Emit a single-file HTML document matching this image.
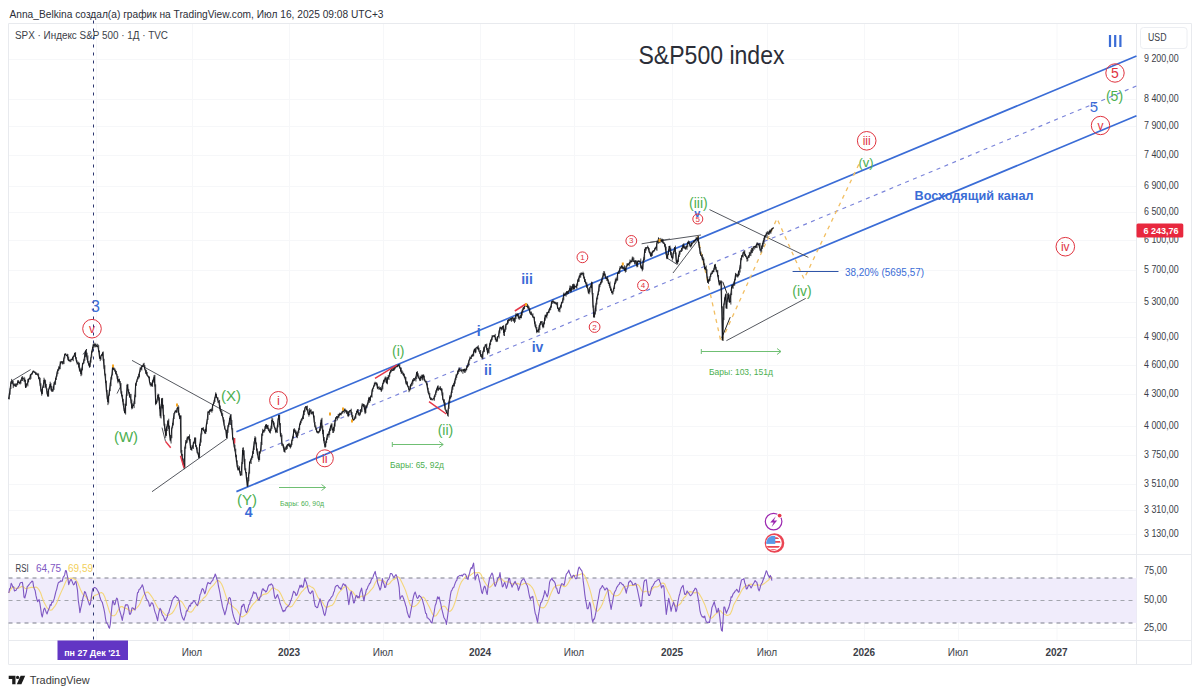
<!DOCTYPE html>
<html><head><meta charset="utf-8"><title>S&amp;P500 index</title>
<style>
html,body{margin:0;padding:0;background:#fff;}
body{width:1200px;height:695px;overflow:hidden;font-family:"Liberation Sans", sans-serif;}
svg{display:block;}
text{font-family:"Liberation Sans", sans-serif;}
</style></head><body>
<svg width="1200" height="695" viewBox="0 0 1200 695">
<rect width="1200" height="695" fill="#ffffff"/>

<text x="9.5" y="17.5" font-size="11" fill="#2b2e38" textLength="374" lengthAdjust="spacingAndGlyphs">Anna_Belkina создал(а) график на TradingView.com, Июл 16, 2025 09:08 UTC+3</text>
<path d="M8.5 59.5H1136.5M8.5 99.5H1136.5M8.5 126.5H1136.5M8.5 155.5H1136.5M8.5 186.5H1136.5M8.5 212.5H1136.5M8.5 240.5H1136.5M8.5 270.5H1136.5M8.5 302.5H1136.5M8.5 337.5H1136.5M8.5 365.5H1136.5M8.5 394.5H1136.5M8.5 426.5H1136.5M8.5 455.5H1136.5M8.5 484.5H1136.5M8.5 510.5H1136.5M8.5 534.5H1136.5M96.5 23.5V640.5M192.5 23.5V640.5M289.5 23.5V640.5M383.5 23.5V640.5M480.5 23.5V640.5M574.5 23.5V640.5M672.5 23.5V640.5M767.5 23.5V640.5M864.5 23.5V640.5M958.5 23.5V640.5M1057.0 23.5V640.5M8.5 628.5H1136.5" stroke="#f6f7f9" stroke-width="1" fill="none"/>
<path d="M8.5 23.5H1191.5V664.5H8.5Z M1136.5 23.5V664.5 M8.5 554.5H1191.5 M8.5 640.5H1191.5" stroke="#e8eaee" stroke-width="1" fill="none"/>
<text x="15" y="39.3" font-size="10" fill="#3b3e48" textLength="153" lengthAdjust="spacingAndGlyphs">SPX · Индекс S&amp;P 500 · 1Д · TVC</text>
<rect x="8.5" y="578" width="1128.0" height="45" fill="#f0ecfb"/>
<path d="M8.5 578H1136.5M8.5 623H1136.5" stroke="#7b7d8a" stroke-width="1" stroke-dasharray="4 4" fill="none"/>
<path d="M8.5 600.5H1136.5" stroke="#a3a5ad" stroke-width="1" stroke-dasharray="4 4" fill="none"/>
<path d="M8.8 593.0 L10.4 590.0 L12.0 587.6 L13.6 587.4 L15.2 588.1 L16.8 588.4 L18.4 588.2 L20.0 587.4 L21.6 586.5 L23.2 586.7 L24.8 588.2 L26.4 588.6 L28.0 588.1 L29.6 587.7 L31.2 587.4 L32.8 587.2 L34.4 587.6 L36.0 587.0 L37.6 588.0 L39.1 589.9 L40.7 593.0 L42.3 597.8 L43.9 602.0 L45.5 605.1 L47.1 607.9 L48.7 609.4 L50.3 610.2 L51.9 609.9 L53.5 607.8 L55.1 605.8 L56.7 603.1 L58.3 599.0 L59.9 595.0 L61.5 591.4 L63.1 587.9 L64.7 584.2 L66.3 580.5 L67.9 578.5 L69.5 578.4 L71.1 578.0 L72.7 578.2 L74.3 578.9 L75.9 579.8 L77.5 582.3 L79.1 586.1 L80.7 590.0 L82.3 593.3 L83.9 595.3 L85.5 596.4 L87.1 598.4 L88.7 600.4 L90.3 600.5 L91.9 598.5 L93.5 596.4 L95.1 595.2 L96.7 594.7 L98.3 594.0 L99.9 593.1 L101.5 592.5 L103.1 593.6 L104.7 596.8 L106.3 601.5 L107.9 606.6 L109.5 611.8 L111.1 615.3 L112.7 615.8 L114.3 615.7 L115.9 614.4 L117.5 611.3 L119.1 608.7 L120.7 606.6 L122.3 606.5 L123.9 608.0 L125.5 608.4 L127.1 608.8 L128.7 610.0 L130.3 611.2 L131.9 610.8 L133.5 609.3 L135.1 608.6 L136.7 608.0 L138.3 606.2 L139.9 603.7 L141.5 599.8 L143.1 596.3 L144.7 594.0 L146.3 592.2 L147.9 592.0 L149.5 593.7 L151.2 595.9 L152.8 598.2 L154.4 601.3 L156.0 604.4 L157.6 607.5 L159.2 609.4 L160.8 610.0 L162.4 611.4 L164.0 613.3 L165.6 615.1 L167.2 615.7 L168.8 614.9 L170.4 614.2 L172.0 613.3 L173.6 611.2 L175.2 608.3 L176.8 604.9 L178.4 602.1 L180.0 600.8 L181.6 601.6 L183.2 603.8 L184.8 606.7 L186.4 609.0 L188.0 610.9 L189.6 612.0 L191.2 612.1 L192.8 610.6 L194.4 608.0 L196.0 605.8 L197.6 604.7 L199.2 603.4 L200.8 601.6 L202.4 599.5 L204.0 597.7 L205.6 596.5 L207.2 594.1 L208.8 590.9 L210.4 588.4 L212.0 586.6 L213.6 585.1 L215.2 583.0 L216.8 580.8 L218.4 580.4 L220.0 581.7 L221.6 584.0 L223.2 587.8 L224.8 592.7 L226.4 597.7 L228.0 601.5 L229.6 603.6 L231.2 604.9 L232.8 606.5 L234.4 607.9 L236.0 609.2 L237.6 611.0 L239.2 613.8 L240.8 616.2 L242.4 617.0 L244.0 616.0 L245.6 614.9 L247.2 613.5 L248.8 611.0 L250.4 608.0 L252.0 605.6 L253.6 603.7 L255.2 602.1 L256.8 599.9 L258.4 598.0 L260.0 596.9 L261.6 595.7 L263.2 594.5 L264.8 594.1 L266.4 593.9 L268.0 593.0 L269.6 591.1 L271.2 589.0 L272.8 587.7 L274.4 588.3 L276.0 589.4 L277.6 589.9 L279.2 591.4 L280.8 594.1 L282.4 597.6 L284.0 601.3 L285.6 603.8 L287.2 605.0 L288.8 606.5 L290.4 607.1 L292.0 606.3 L293.6 604.0 L295.2 601.3 L296.8 599.2 L298.4 597.0 L300.0 594.2 L301.6 591.9 L303.2 590.3 L304.8 588.5 L306.4 587.0 L308.0 585.8 L309.6 585.9 L311.2 586.9 L312.8 587.6 L314.4 589.4 L316.0 593.1 L317.6 596.8 L319.2 599.1 L320.8 600.2 L322.4 602.0 L324.0 605.1 L325.6 607.2 L327.2 607.3 L328.8 606.4 L330.4 605.8 L332.0 605.4 L333.6 603.7 L335.2 600.4 L336.8 596.3 L338.4 593.3 L340.0 591.3 L341.6 589.8 L343.2 588.0 L344.8 586.7 L346.4 586.3 L348.0 587.7 L349.6 590.1 L351.2 590.8 L352.8 591.9 L354.4 594.4 L356.0 596.2 L357.6 597.7 L359.2 597.9 L360.8 596.4 L362.4 596.0 L364.0 596.5 L365.6 595.3 L367.2 594.1 L368.8 592.6 L370.4 590.6 L372.0 588.8 L373.6 586.8 L375.2 583.0 L376.8 580.4 L378.4 579.7 L380.0 580.1 L381.6 580.5 L383.2 580.7 L384.8 582.0 L386.4 583.9 L388.0 584.4 L389.6 583.6 L391.2 581.4 L392.8 579.8 L394.4 579.4 L396.0 577.8 L397.6 576.7 L399.2 577.4 L400.8 580.3 L402.4 583.5 L404.0 586.9 L405.6 590.6 L407.2 595.6 L408.8 601.0 L410.4 605.3 L412.0 606.5 L413.6 606.8 L415.2 606.0 L416.8 604.9 L418.4 603.2 L420.0 600.4 L421.6 597.8 L423.2 597.0 L424.8 598.4 L426.4 601.3 L428.0 604.5 L429.6 607.5 L431.2 611.2 L432.8 614.5 L434.4 616.2 L436.0 615.8 L437.6 613.7 L439.2 610.8 L440.8 608.4 L442.4 606.7 L444.0 606.0 L445.6 607.0 L447.2 609.5 L448.8 611.1 L450.4 611.2 L452.0 609.5 L453.6 606.3 L455.2 601.8 L456.8 596.2 L458.4 589.8 L460.0 584.9 L461.6 581.6 L463.2 579.5 L464.8 577.5 L466.4 576.2 L468.0 576.0 L469.6 575.7 L471.2 574.6 L472.8 573.4 L474.4 572.3 L476.0 572.9 L477.6 572.7 L479.2 572.6 L480.8 574.1 L482.4 577.6 L484.0 580.7 L485.6 583.5 L487.2 585.7 L488.8 587.2 L490.4 587.0 L492.0 585.4 L493.6 583.2 L495.2 582.7 L496.8 582.1 L498.4 579.9 L500.0 578.5 L501.6 578.9 L503.2 580.7 L504.8 581.6 L506.4 581.8 L508.0 582.0 L509.6 582.0 L511.2 583.3 L512.8 584.2 L514.4 583.7 L516.0 583.6 L517.6 583.4 L519.2 584.1 L520.8 585.0 L522.4 584.5 L524.0 583.4 L525.6 583.2 L527.2 583.5 L528.8 584.2 L530.4 585.5 L532.0 587.3 L533.6 590.0 L535.2 594.6 L536.8 599.7 L538.4 604.6 L540.0 607.1 L541.6 607.7 L543.2 607.9 L544.8 607.0 L546.4 604.6 L548.0 601.5 L549.6 596.8 L551.2 592.7 L552.8 589.4 L554.4 586.9 L556.0 585.9 L557.6 585.3 L559.2 585.0 L560.8 585.2 L562.4 585.8 L564.0 586.6 L565.6 586.4 L567.2 584.7 L568.8 581.9 L570.4 579.1 L572.0 577.7 L573.6 576.5 L575.2 575.4 L576.8 575.3 L578.4 574.9 L580.0 574.4 L581.6 573.8 L583.2 573.8 L584.8 575.9 L586.4 579.5 L588.0 583.8 L589.6 588.6 L591.2 594.3 L592.8 601.5 L594.4 607.5 L596.0 610.8 L597.6 611.2 L599.2 609.4 L600.8 607.1 L602.4 604.1 L603.9 599.4 L605.5 595.2 L607.1 591.6 L608.7 589.9 L610.3 590.8 L611.9 593.5 L613.5 595.2 L615.1 595.9 L616.7 595.7 L618.3 595.3 L619.9 594.0 L621.5 591.2 L623.1 588.0 L624.7 586.3 L626.3 586.2 L627.9 586.1 L629.5 585.6 L631.1 585.3 L632.7 585.4 L634.3 585.4 L635.9 584.9 L637.5 584.5 L639.1 585.6 L640.7 588.8 L642.3 591.6 L643.9 592.0 L645.5 591.3 L647.1 591.2 L648.7 592.0 L650.3 591.8 L651.9 589.6 L653.5 587.4 L655.1 586.8 L656.7 587.0 L658.3 586.5 L659.9 584.6 L661.5 583.3 L663.1 583.0 L664.7 584.0 L666.3 587.9 L667.9 591.5 L669.5 594.4 L671.1 598.4 L672.7 601.3 L674.3 603.8 L675.9 606.3 L677.5 605.9 L679.1 604.7 L680.7 603.5 L682.3 600.4 L683.9 597.8 L685.5 596.5 L687.1 594.0 L688.7 592.0 L690.3 591.6 L691.9 592.0 L693.5 592.7 L695.1 592.9 L696.7 592.1 L698.3 592.8 L699.9 594.9 L701.5 597.7 L703.1 600.9 L704.7 604.4 L706.3 608.9 L707.9 613.6 L709.5 617.2 L711.1 618.4 L712.7 617.3 L714.3 615.3 L715.9 613.9 L717.5 612.7 L719.1 610.9 L720.7 610.8 L722.3 613.0 L723.9 613.9 L725.5 614.8 L727.1 615.5 L728.7 615.0 L730.3 614.1 L731.9 610.6 L733.5 605.3 L735.1 602.3 L736.7 599.6 L738.3 596.6 L739.9 593.9 L741.5 590.8 L743.1 588.3 L744.7 586.4 L746.3 585.6 L747.9 585.3 L749.5 584.4 L751.1 584.1 L752.7 584.7 L754.3 585.2 L755.9 585.2 L757.5 584.8 L759.1 585.1 L760.7 585.3 L762.3 584.7 L763.9 583.8 L765.5 582.6 L767.1 581.2 L768.7 580.0 L770.3 578.1 L771.9 577.0" stroke="#f4d67a" stroke-width="1.1" fill="none" stroke-linejoin="round"/>
<path d="M8.8 593.0 L9.6 588.7 L10.4 588.1 L11.2 583.4 L12.0 584.7 L12.8 587.1 L13.6 586.7 L14.4 590.9 L15.2 590.5 L16.0 590.4 L16.8 588.6 L17.6 588.1 L18.4 586.9 L19.2 585.7 L20.0 583.4 L20.8 582.6 L21.6 582.5 L22.4 582.4 L23.2 587.8 L24.0 597.1 L24.8 598.0 L25.6 594.8 L26.4 591.8 L27.2 586.7 L28.0 586.0 L28.8 584.9 L29.6 584.0 L30.4 582.8 L31.2 582.1 L32.0 581.1 L32.8 581.4 L33.6 586.6 L34.4 588.9 L35.2 590.8 L36.0 595.7 L36.8 599.0 L37.6 601.7 L38.4 600.4 L39.1 599.7 L39.9 603.3 L40.7 608.7 L41.5 614.5 L42.3 617.0 L43.1 612.9 L43.9 609.0 L44.7 608.1 L45.5 610.4 L46.3 612.5 L47.1 613.9 L47.9 611.2 L48.7 609.3 L49.5 607.5 L50.3 604.5 L51.1 605.4 L51.9 601.9 L52.7 602.4 L53.5 600.7 L54.3 598.4 L55.1 595.0 L55.9 591.7 L56.7 589.3 L57.5 585.7 L58.3 582.9 L59.1 582.1 L59.9 581.9 L60.7 580.7 L61.5 581.2 L62.3 581.2 L63.1 577.3 L63.9 576.4 L64.7 574.7 L65.5 570.6 L66.3 570.7 L67.1 574.8 L67.9 578.4 L68.7 584.6 L69.5 582.3 L70.3 580.2 L71.1 579.3 L71.9 580.9 L72.7 583.0 L73.5 584.9 L74.3 584.4 L75.1 582.1 L75.9 581.4 L76.7 585.6 L77.5 590.4 L78.3 600.6 L79.1 605.8 L79.9 612.6 L80.7 608.4 L81.5 605.4 L82.3 600.8 L83.1 597.3 L83.9 594.6 L84.7 591.5 L85.5 592.4 L86.3 595.2 L87.1 597.3 L87.9 600.6 L88.7 602.4 L89.5 605.0 L90.3 604.1 L91.1 599.1 L91.9 593.0 L92.7 588.8 L93.5 588.3 L94.3 587.6 L95.1 587.6 L95.9 588.1 L96.7 588.9 L97.5 590.5 L98.3 591.8 L99.1 593.7 L99.9 597.0 L100.7 599.5 L101.5 601.2 L102.3 602.4 L103.1 605.6 L103.9 608.9 L104.7 612.9 L105.5 618.5 L106.3 622.5 L107.1 623.4 L107.9 624.5 L108.7 627.2 L109.5 628.2 L110.3 624.1 L111.1 614.8 L111.9 606.9 L112.7 600.9 L113.5 601.9 L114.3 604.8 L115.1 604.1 L115.9 600.1 L116.7 598.1 L117.5 599.1 L118.3 603.8 L119.1 607.9 L119.9 611.5 L120.7 613.9 L121.5 617.0 L122.3 620.5 L123.1 615.7 L123.9 613.0 L124.7 607.8 L125.5 604.9 L126.3 605.1 L127.1 604.5 L127.9 605.4 L128.7 608.5 L129.5 614.2 L130.3 614.3 L131.1 612.5 L131.9 608.1 L132.7 607.8 L133.5 608.5 L134.3 609.3 L135.1 610.0 L135.9 604.7 L136.7 598.6 L137.5 592.8 L138.3 592.2 L139.1 589.3 L139.9 589.2 L140.7 587.6 L141.5 586.8 L142.3 584.7 L143.1 586.9 L143.9 590.5 L144.7 593.9 L145.5 595.2 L146.3 598.7 L147.1 599.7 L147.9 600.9 L148.7 602.3 L149.5 606.1 L150.3 605.9 L151.2 603.1 L152.0 602.8 L152.8 603.7 L153.6 606.0 L154.4 609.8 L155.2 612.6 L156.0 614.4 L156.8 617.6 L157.6 620.6 L158.4 615.0 L159.2 611.2 L160.0 608.3 L160.8 609.5 L161.6 612.6 L162.4 615.1 L163.2 615.9 L164.0 617.9 L164.8 620.6 L165.6 620.5 L166.4 618.3 L167.2 617.1 L168.0 613.4 L168.8 612.8 L169.6 609.4 L170.4 607.2 L171.2 604.7 L172.0 601.2 L172.8 599.5 L173.6 597.6 L174.4 597.4 L175.2 595.8 L176.0 596.5 L176.8 597.6 L177.6 597.5 L178.4 599.3 L179.2 600.9 L180.0 607.1 L180.8 611.9 L181.6 615.0 L182.4 617.6 L183.2 619.2 L184.0 620.2 L184.8 617.1 L185.6 615.3 L186.4 610.8 L187.2 611.1 L188.0 609.3 L188.8 607.0 L189.6 605.3 L190.4 606.1 L191.2 603.0 L192.0 603.5 L192.8 602.4 L193.6 600.6 L194.4 600.9 L195.2 602.2 L196.0 603.8 L196.8 604.8 L197.6 605.7 L198.4 602.2 L199.2 599.6 L200.0 594.8 L200.8 593.4 L201.6 590.3 L202.4 588.6 L203.2 589.1 L204.0 591.5 L204.8 593.7 L205.6 591.5 L206.4 587.3 L207.2 584.5 L208.0 582.4 L208.8 583.2 L209.6 583.4 L210.4 583.8 L211.2 582.0 L212.0 581.0 L212.8 580.3 L213.6 577.5 L214.4 577.0 L215.2 574.0 L216.0 575.8 L216.8 579.1 L217.6 580.7 L218.4 586.0 L219.2 589.4 L220.0 593.3 L220.8 598.4 L221.6 601.7 L222.4 606.4 L223.2 609.1 L224.0 611.7 L224.8 614.8 L225.6 612.2 L226.4 609.1 L227.2 605.0 L228.0 603.0 L228.8 598.1 L229.6 597.5 L230.4 598.6 L231.2 603.0 L232.0 609.6 L232.8 613.4 L233.6 616.5 L234.4 618.7 L235.2 620.9 L236.0 622.7 L236.8 623.3 L237.6 624.3 L238.4 624.5 L239.2 622.4 L240.0 616.3 L240.8 613.1 L241.6 606.0 L242.4 606.6 L243.2 604.3 L244.0 604.4 L244.8 608.4 L245.6 611.0 L246.4 612.6 L247.2 611.3 L248.0 608.5 L248.8 604.9 L249.6 604.0 L250.4 600.7 L251.2 598.5 L252.0 597.0 L252.8 594.5 L253.6 591.7 L254.4 593.3 L255.2 592.9 L256.0 593.0 L256.8 595.7 L257.6 598.2 L258.4 599.6 L259.2 600.0 L260.0 597.2 L260.8 596.6 L261.6 592.1 L262.4 589.1 L263.2 588.8 L264.0 590.4 L264.8 590.3 L265.6 591.9 L266.4 591.5 L267.2 590.1 L268.0 586.9 L268.8 585.3 L269.6 584.7 L270.4 584.9 L271.2 583.8 L272.0 584.6 L272.8 585.7 L273.6 590.3 L274.4 596.0 L275.2 598.6 L276.0 597.7 L276.8 595.8 L277.6 594.6 L278.4 597.5 L279.2 599.4 L280.0 603.3 L280.8 605.4 L281.6 607.6 L282.4 610.0 L283.2 611.8 L284.0 610.3 L284.8 611.1 L285.6 609.4 L286.4 607.2 L287.2 606.9 L288.0 606.1 L288.8 605.3 L289.6 604.0 L290.4 601.6 L291.2 599.6 L292.0 597.2 L292.8 594.2 L293.6 591.2 L294.4 592.2 L295.2 592.8 L296.0 595.5 L296.8 595.0 L297.6 593.0 L298.4 590.1 L299.2 587.9 L300.0 585.2 L300.8 587.2 L301.6 585.1 L302.4 587.3 L303.2 586.9 L304.0 582.6 L304.8 578.4 L305.6 580.8 L306.4 582.5 L307.2 585.8 L308.0 588.8 L308.8 591.8 L309.6 592.9 L310.4 593.7 L311.2 592.7 L312.0 591.0 L312.8 591.0 L313.6 596.8 L314.4 602.3 L315.2 606.2 L316.0 606.7 L316.8 607.8 L317.6 607.5 L318.4 604.7 L319.2 602.1 L320.0 598.7 L320.8 601.4 L321.6 605.1 L322.4 607.2 L323.2 610.7 L324.0 614.0 L324.8 615.6 L325.6 612.9 L326.4 608.4 L327.2 605.6 L328.0 602.1 L328.8 601.3 L329.6 599.6 L330.4 599.1 L331.2 597.3 L332.0 596.5 L332.8 595.5 L333.6 592.6 L334.4 590.9 L335.2 587.2 L336.0 586.2 L336.8 585.5 L337.6 585.4 L338.4 586.4 L339.2 587.9 L340.0 587.7 L340.8 589.4 L341.6 587.9 L342.4 585.6 L343.2 583.7 L344.0 584.2 L344.8 585.5 L345.6 584.9 L346.4 588.2 L347.2 592.4 L348.0 598.9 L348.8 604.7 L349.6 600.0 L350.4 593.9 L351.2 591.5 L352.0 594.5 L352.8 598.0 L353.6 603.0 L354.4 602.7 L355.2 598.6 L356.0 596.0 L356.8 595.4 L357.6 597.7 L358.4 596.7 L359.2 597.9 L360.0 592.7 L360.8 590.4 L361.6 588.1 L362.4 592.9 L363.2 597.5 L364.0 600.9 L364.8 595.7 L365.6 593.6 L366.4 589.4 L367.2 589.0 L368.0 586.4 L368.8 585.3 L369.6 583.3 L370.4 583.0 L371.2 580.0 L372.0 578.6 L372.8 578.2 L373.6 574.9 L374.4 573.3 L375.2 571.4 L376.0 575.7 L376.8 577.6 L377.6 582.7 L378.4 585.0 L379.2 587.3 L380.0 590.1 L380.8 588.3 L381.6 583.8 L382.4 578.5 L383.2 582.6 L384.0 584.1 L384.8 587.5 L385.6 587.3 L386.4 583.9 L387.2 581.2 L388.0 579.7 L388.8 579.1 L389.6 577.1 L390.4 573.5 L391.2 573.5 L392.0 573.9 L392.8 575.8 L393.6 577.1 L394.4 577.2 L395.2 575.4 L396.0 574.7 L396.8 576.3 L397.6 579.3 L398.4 582.8 L399.2 587.7 L400.0 599.2 L400.8 597.2 L401.6 596.0 L402.4 595.7 L403.2 597.6 L404.0 599.8 L404.8 602.2 L405.6 605.0 L406.4 607.4 L407.2 612.0 L408.0 614.4 L408.8 616.9 L409.6 617.6 L410.4 613.0 L411.2 608.9 L412.0 604.7 L412.8 599.8 L413.6 596.2 L414.4 593.5 L415.2 592.1 L416.0 594.7 L416.8 597.4 L417.6 598.4 L418.4 597.5 L419.2 595.3 L420.0 596.1 L420.8 596.8 L421.6 598.3 L422.4 599.6 L423.2 602.8 L424.0 605.6 L424.8 609.3 L425.6 613.2 L426.4 613.7 L427.2 617.9 L428.0 618.0 L428.8 619.0 L429.6 619.6 L430.4 621.0 L431.2 622.6 L432.0 623.0 L432.8 618.1 L433.6 615.6 L434.4 610.5 L435.2 605.5 L436.0 603.8 L436.8 600.2 L437.6 596.8 L438.4 598.7 L439.2 597.0 L440.0 600.8 L440.8 603.9 L441.6 608.3 L442.4 611.3 L443.2 614.6 L444.0 617.8 L444.8 619.0 L445.6 620.5 L446.4 624.5 L447.2 619.1 L448.0 613.2 L448.8 607.1 L449.6 601.1 L450.4 595.2 L451.2 591.1 L452.0 590.2 L452.8 587.8 L453.6 587.7 L454.4 585.5 L455.2 583.1 L456.0 581.2 L456.8 580.4 L457.6 577.0 L458.4 576.4 L459.2 575.9 L460.0 575.4 L460.8 575.9 L461.6 575.1 L462.4 576.2 L463.2 574.6 L464.0 574.0 L464.8 574.0 L465.6 574.5 L466.4 576.4 L467.2 578.9 L468.0 579.4 L468.8 575.5 L469.6 573.2 L470.4 569.6 L471.2 567.6 L472.0 568.6 L472.8 565.5 L473.6 563.1 L474.4 571.5 L475.2 580.0 L476.0 576.5 L476.8 575.0 L477.6 574.1 L478.4 576.1 L479.2 580.1 L480.0 583.0 L480.8 587.5 L481.6 591.9 L482.4 593.6 L483.2 590.0 L484.0 587.1 L484.8 586.1 L485.6 588.5 L486.4 592.1 L487.2 594.5 L488.0 587.2 L488.8 582.6 L489.6 578.0 L490.4 576.5 L491.2 574.6 L492.0 573.1 L492.8 574.7 L493.6 579.2 L494.4 583.9 L495.2 586.4 L496.0 584.6 L496.8 581.9 L497.6 578.5 L498.4 577.5 L499.2 576.9 L500.0 572.6 L500.8 578.7 L501.6 582.3 L502.4 586.9 L503.2 586.2 L504.0 583.7 L504.8 582.4 L505.6 585.1 L506.4 588.4 L507.2 586.4 L508.0 582.8 L508.8 578.2 L509.6 578.3 L510.4 583.2 L511.2 584.1 L512.0 587.2 L512.8 585.6 L513.6 583.9 L514.4 582.6 L515.2 581.4 L516.0 583.9 L516.8 584.5 L517.6 586.2 L518.4 590.4 L519.2 588.3 L520.0 585.7 L520.8 582.8 L521.6 580.4 L522.4 580.0 L523.2 578.9 L524.0 578.9 L524.8 580.7 L525.6 582.1 L526.4 584.4 L527.2 585.3 L528.0 588.3 L528.8 593.0 L529.6 596.9 L530.4 599.4 L531.2 597.0 L532.0 597.2 L532.8 596.3 L533.6 602.0 L534.4 608.5 L535.2 613.2 L536.0 615.2 L536.8 619.2 L537.6 622.3 L538.4 615.3 L539.2 611.2 L540.0 605.8 L540.8 602.7 L541.6 602.0 L542.4 599.7 L543.2 597.5 L544.0 594.7 L544.8 590.6 L545.6 592.9 L546.4 594.8 L547.2 596.9 L548.0 594.4 L548.8 589.3 L549.6 582.1 L550.4 580.2 L551.2 579.5 L552.0 578.1 L552.8 580.3 L553.6 580.8 L554.4 581.8 L555.2 583.4 L556.0 587.8 L556.8 588.4 L557.6 592.0 L558.4 593.6 L559.2 593.2 L560.0 588.5 L560.8 586.0 L561.6 583.8 L562.4 583.9 L563.2 584.4 L564.0 585.3 L564.8 582.0 L565.6 577.1 L566.4 574.0 L567.2 573.1 L568.0 572.1 L568.8 570.1 L569.6 573.1 L570.4 574.7 L571.2 576.7 L572.0 577.9 L572.8 575.9 L573.6 575.2 L574.4 575.9 L575.2 578.1 L576.0 578.9 L576.8 578.2 L577.6 572.9 L578.4 568.8 L579.2 567.1 L580.0 568.2 L580.8 569.7 L581.6 570.2 L582.4 572.9 L583.2 580.9 L584.0 587.1 L584.8 594.4 L585.6 599.9 L586.4 603.9 L587.2 608.7 L588.0 608.8 L588.8 606.4 L589.6 602.3 L590.4 604.4 L591.2 610.7 L592.0 618.8 L592.8 622.2 L593.6 619.1 L594.4 619.1 L595.2 615.7 L596.0 611.8 L596.8 606.8 L597.6 602.0 L598.4 598.4 L599.2 593.5 L600.0 589.4 L600.8 588.3 L601.6 587.3 L602.4 585.5 L603.1 586.8 L603.9 587.9 L604.7 589.9 L605.5 589.7 L606.3 588.0 L607.1 588.3 L607.9 590.2 L608.7 595.6 L609.5 600.3 L610.3 604.5 L611.1 609.5 L611.9 604.8 L612.7 601.3 L613.5 596.0 L614.3 592.8 L615.1 591.3 L615.9 589.9 L616.7 587.3 L617.5 586.5 L618.3 584.9 L619.1 584.6 L619.9 582.4 L620.7 582.7 L621.5 583.2 L622.3 584.6 L623.1 584.6 L623.9 586.1 L624.7 587.0 L625.5 590.0 L626.3 593.2 L627.1 588.7 L627.9 587.2 L628.7 582.0 L629.5 581.9 L630.3 580.6 L631.1 581.7 L631.9 582.5 L632.7 584.9 L633.5 584.8 L634.3 584.5 L635.1 583.3 L635.9 583.8 L636.7 586.7 L637.5 590.1 L638.3 594.0 L639.1 597.8 L639.9 601.6 L640.7 606.4 L641.5 605.7 L642.3 596.3 L643.1 590.0 L643.9 582.5 L644.7 580.3 L645.5 580.1 L646.3 579.7 L647.1 586.2 L647.9 592.5 L648.7 595.4 L649.5 595.5 L650.3 593.8 L651.1 589.6 L651.9 587.0 L652.7 586.4 L653.5 584.5 L654.3 583.4 L655.1 581.6 L655.9 581.2 L656.7 580.6 L657.5 579.8 L658.3 579.6 L659.1 579.3 L659.9 581.9 L660.7 583.9 L661.5 587.9 L662.3 586.3 L663.1 585.5 L663.9 586.7 L664.7 597.5 L665.5 605.4 L666.3 614.4 L667.1 608.8 L667.9 603.3 L668.7 598.4 L669.5 601.8 L670.3 606.4 L671.1 611.3 L671.9 607.4 L672.7 605.0 L673.5 602.1 L674.3 604.6 L675.1 607.0 L675.9 611.7 L676.7 610.0 L677.5 604.3 L678.3 599.9 L679.1 596.0 L679.9 593.4 L680.7 589.9 L681.5 587.6 L682.3 586.5 L683.1 585.4 L683.9 590.5 L684.7 594.3 L685.5 594.5 L686.3 593.3 L687.1 590.9 L687.9 592.4 L688.7 593.0 L689.5 594.5 L690.3 595.7 L691.1 595.2 L691.9 594.3 L692.7 593.0 L693.5 591.0 L694.3 590.2 L695.1 588.3 L695.9 588.4 L696.7 589.9 L697.5 594.9 L698.3 599.2 L699.1 604.3 L699.9 610.3 L700.7 613.7 L701.5 615.5 L702.3 617.0 L703.1 616.5 L703.9 617.6 L704.7 616.0 L705.5 619.4 L706.3 621.8 L707.1 622.4 L707.9 622.5 L708.7 622.0 L709.5 622.5 L710.3 617.5 L711.1 613.8 L711.9 607.6 L712.7 605.8 L713.5 603.7 L714.3 601.7 L715.1 605.8 L715.9 608.0 L716.7 612.4 L717.5 611.8 L718.3 608.2 L719.1 611.6 L719.9 618.0 L720.7 625.6 L721.5 630.4 L722.3 631.1 L723.1 619.5 L723.9 607.0 L724.7 607.1 L725.5 610.1 L726.3 613.2 L727.1 611.3 L727.9 609.6 L728.7 607.8 L729.5 604.8 L730.3 602.0 L731.1 596.7 L731.9 597.2 L732.7 595.0 L733.5 593.0 L734.3 592.8 L735.1 591.1 L735.9 590.8 L736.7 589.2 L737.5 590.3 L738.3 592.1 L739.1 591.9 L739.9 587.2 L740.7 583.6 L741.5 579.9 L742.3 579.6 L743.1 579.2 L743.9 578.6 L744.7 582.7 L745.5 584.6 L746.3 589.0 L747.1 588.8 L747.9 586.8 L748.7 585.1 L749.5 585.2 L750.3 586.5 L751.1 588.0 L751.9 586.5 L752.7 584.8 L753.5 583.6 L754.3 582.2 L755.1 580.6 L755.9 581.7 L756.7 582.0 L757.5 585.0 L758.3 589.1 L759.1 590.9 L759.9 588.5 L760.7 585.4 L761.5 583.6 L762.3 582.5 L763.1 580.0 L763.9 578.0 L764.7 575.8 L765.5 573.3 L766.3 570.7 L767.1 572.1 L767.9 574.8 L768.7 576.1 L769.5 577.6 L770.3 575.4 L771.1 577.0 L771.9 580.6" stroke="#7e57c2" stroke-width="1.1" fill="none" stroke-linejoin="round"/>
<text x="15.6" y="571.6" font-size="10" fill="#3b3e48" textLength="13.2" lengthAdjust="spacingAndGlyphs">RSI</text>
<text x="36" y="571.5" font-size="10" fill="#7e57c2">64,75</text>
<text x="68" y="571.5" font-size="10" fill="#f2cf5b">69,59</text>
<path d="M236.4 431.8L1136.5 56.0M236.4 491.6L1136.5 115.8" stroke="#3a6cd6" stroke-width="1.7" fill="none"/>
<path d="M262 451.1L1136.5 86.0" stroke="#7a84da" stroke-width="1.15" stroke-dasharray="4 4.5" fill="none"/>
<path d="M132 360.4L230.5 414.4M230.5 414.4L230.5 425M162 427.6L165.5 441.4M152 491.7L227.9 437.9M11 381.4L30.6 369.6M83 354.5L86.9 349M117 393.6L120.4 386.8M641.6 243.8L670 239M650 242.4L701 235M673 273L699 238.7M667 258L677 264.4M709.5 209.6L808.4 257.4M726.4 340.7L805.7 298.4" stroke="#55585f" stroke-width="1" fill="none"/>
<path d="M721.8 337.8L730.2 317.2M722.7 281.7L730.2 302.2" stroke="#222" stroke-width="1" fill="none"/>
<path d="M697.5 236L721 342L777 218.5L804 279L859 164" stroke="#f2bf63" stroke-width="1.3" stroke-dasharray="4 4.5" fill="none"/>
<path d="M93.5 20.5V640.5" stroke="#2c3670" stroke-width="1" stroke-dasharray="3 5" fill="none"/>
<path d="M8.60 398.5 L9.37 393.8 L10.14 388.3 L10.91 382.6 L11.68 381.7 L12.45 382.6 L13.22 384.8 L13.99 385.5 L14.76 385.0 L15.53 385.7 L16.30 385.1 L17.07 384.3 L17.84 381.4 L18.61 382.6 L19.38 382.9 L20.15 382.8 L20.92 380.0 L21.69 378.3 L22.46 378.2 L23.23 378.5 L24.00 379.5 L24.77 380.0 L25.54 387.5 L26.31 385.3 L27.08 383.8 L27.85 382.1 L28.62 378.9 L29.39 379.1 L30.16 376.9 L30.93 374.0 L31.70 373.8 L32.47 372.2 L33.24 371.6 L34.01 371.6 L34.78 372.7 L35.55 373.8 L36.32 374.0 L37.09 373.9 L37.86 374.9 L38.63 377.7 L39.40 379.6 L40.17 384.8 L40.94 390.1 L41.71 393.6 L42.48 387.8 L43.25 385.4 L44.02 380.0 L44.79 382.0 L45.56 385.9 L46.33 388.6 L47.10 393.2 L47.87 396.0 L48.64 389.2 L49.41 387.0 L50.18 384.0 L50.95 387.8 L51.72 390.6 L52.49 390.0 L53.26 388.9 L54.03 384.2 L54.80 382.7 L55.57 379.2 L56.34 376.2 L57.11 372.5 L57.88 369.6 L58.65 369.0 L59.42 368.2 L60.19 364.1 L60.96 361.9 L61.73 362.2 L62.50 363.1 L63.27 361.9 L64.04 357.7 L64.81 354.0 L65.58 354.7 L66.35 355.7 L67.12 354.8 L67.89 358.1 L68.66 360.5 L69.43 360.6 L70.20 360.6 L70.97 359.6 L71.74 359.9 L72.51 358.3 L73.28 356.8 L74.05 355.5 L74.82 353.0 L75.59 357.4 L76.36 360.8 L77.13 363.3 L77.90 362.9 L78.67 365.4 L79.44 369.8 L80.21 370.2 L80.98 374.0 L81.75 369.5 L82.52 364.1 L83.29 362.9 L84.06 359.4 L84.83 355.0 L85.60 350.8 L86.37 355.3 L87.14 358.2 L87.91 362.5 L88.68 364.2 L89.45 366.7 L90.22 362.3 L90.99 357.3 L91.76 351.3 L92.53 348.2 L93.30 344.7 L94.07 345.9 L94.84 344.3 L95.61 345.1 L96.38 345.6 L97.15 345.9 L97.92 347.0 L98.69 351.0 L99.46 357.1 L100.23 359.0 L101.00 355.4 L101.77 355.2 L102.54 353.0 L103.31 359.9 L104.08 367.2 L104.85 374.4 L105.62 381.9 L106.39 390.0 L107.16 397.0 L107.93 402.0 L108.70 395.6 L109.47 389.5 L110.24 384.5 L111.01 379.0 L111.78 375.1 L112.55 366.7 L113.32 368.8 L114.09 369.4 L114.86 370.7 L115.63 372.8 L116.40 374.2 L117.17 377.0 L117.94 381.4 L118.71 379.6 L119.48 381.4 L120.25 385.0 L121.02 391.3 L121.79 396.1 L122.56 399.8 L123.33 405.2 L124.10 409.7 L124.87 413.0 L125.64 405.1 L126.41 394.5 L127.18 385.0 L127.95 389.5 L128.72 392.7 L129.49 396.3 L130.26 396.6 L131.03 401.1 L131.80 408.0 L132.57 405.9 L133.34 406.0 L134.11 402.7 L134.88 396.1 L135.65 384.0 L136.42 382.0 L137.19 379.4 L137.96 376.9 L138.73 375.5 L139.50 371.8 L140.27 368.5 L141.04 369.3 L141.81 366.1 L142.58 366.2 L143.35 364.5 L144.12 365.5 L144.89 369.5 L145.66 371.8 L146.43 373.1 L147.20 375.4 L147.97 376.6 L148.74 376.7 L149.51 382.1 L150.28 384.8 L151.05 384.0 L151.82 385.8 L152.59 381.2 L153.36 380.4 L154.13 376.7 L154.90 386.1 L155.67 403.6 L156.44 401.7 L157.21 399.2 L157.98 395.0 L158.75 398.6 L159.52 406.6 L160.29 415.8 L161.06 407.2 L161.83 398.7 L162.60 406.6 L163.37 415.1 L164.14 424.1 L164.91 429.7 L165.68 435.4 L166.45 428.5 L167.22 425.5 L167.99 420.7 L168.76 426.9 L169.53 435.1 L170.30 440.3 L171.07 436.3 L171.84 427.7 L172.61 424.5 L173.38 418.3 L174.15 413.4 L174.92 412.0 L175.69 411.2 L176.46 411.5 L177.23 408.0 L178.00 407.3 L178.77 413.8 L179.54 417.2 L180.31 415.8 L181.08 452.5 L181.85 456.4 L182.62 460.7 L183.39 465.1 L184.16 467.0 L184.93 447.6 L185.70 443.2 L186.47 441.5 L187.24 437.8 L188.01 437.9 L188.78 436.6 L189.55 440.8 L190.32 445.6 L191.09 450.0 L191.86 447.8 L192.63 446.7 L193.40 443.3 L194.17 441.7 L194.94 437.9 L195.71 446.1 L196.48 447.8 L197.25 452.5 L198.02 453.5 L198.79 457.4 L199.56 445.0 L200.33 441.4 L201.10 433.7 L201.87 428.0 L202.64 428.4 L203.41 430.2 L204.18 431.2 L204.95 433.0 L205.72 428.7 L206.49 423.4 L207.26 419.2 L208.03 412.0 L208.80 412.5 L209.57 410.1 L210.34 409.5 L211.11 410.9 L211.88 409.7 L212.65 405.2 L213.42 403.7 L214.19 401.2 L214.96 397.3 L215.73 393.8 L216.50 397.4 L217.27 397.9 L218.04 401.0 L218.81 402.2 L219.58 407.3 L220.35 411.0 L221.12 412.1 L221.89 415.1 L222.66 417.2 L223.43 421.5 L224.20 425.6 L224.97 429.3 L225.74 430.5 L226.51 437.9 L227.28 432.3 L228.05 426.1 L228.82 423.8 L229.59 419.2 L230.36 415.8 L231.13 420.4 L231.90 428.8 L232.67 437.9 L233.44 441.7 L234.21 446.7 L234.98 450.0 L235.75 456.1 L236.52 462.2 L237.29 467.0 L238.06 469.7 L238.83 468.2 L239.60 471.7 L240.37 474.9 L241.14 474.6 L241.91 463.2 L242.68 450.0 L243.45 452.7 L244.22 459.9 L244.99 469.0 L245.76 472.8 L246.53 479.7 L247.30 485.6 L248.07 480.7 L248.84 473.5 L249.61 462.0 L250.38 460.8 L251.15 458.9 L251.92 457.0 L252.69 453.4 L253.46 447.6 L254.23 441.9 L255.00 437.9 L255.77 442.6 L256.54 448.8 L257.31 453.3 L258.08 456.7 L258.85 460.0 L259.62 451.7 L260.39 451.2 L261.16 444.4 L261.93 434.0 L262.70 432.0 L263.47 430.3 L264.24 430.6 L265.01 428.5 L265.78 424.8 L266.55 427.0 L267.32 425.6 L268.09 429.1 L268.86 430.8 L269.63 432.0 L270.40 430.0 L271.17 427.4 L271.94 420.0 L272.71 421.3 L273.48 424.3 L274.25 426.9 L275.02 428.7 L275.79 432.0 L276.56 430.6 L277.33 426.7 L278.10 419.9 L278.87 415.0 L279.64 423.9 L280.41 434.0 L281.18 437.0 L281.95 444.3 L282.72 445.1 L283.49 448.2 L284.26 451.7 L285.03 448.4 L285.80 447.6 L286.57 447.1 L287.34 444.5 L288.11 444.0 L288.88 445.1 L289.65 446.3 L290.42 446.8 L291.19 444.7 L291.96 440.0 L292.73 437.1 L293.50 432.8 L294.27 429.7 L295.04 431.4 L295.81 434.0 L296.58 437.0 L297.35 434.5 L298.12 431.7 L298.89 429.1 L299.66 424.8 L300.43 421.8 L301.20 420.4 L301.97 419.1 L302.74 416.5 L303.51 413.2 L304.28 410.9 L305.05 407.7 L305.82 406.5 L306.59 409.2 L307.36 410.1 L308.13 413.3 L308.90 415.0 L309.67 410.6 L310.44 410.6 L311.21 413.5 L311.98 412.5 L312.75 412.5 L313.52 416.1 L314.29 422.3 L315.06 427.0 L315.83 428.5 L316.60 431.2 L317.37 432.2 L318.14 432.3 L318.91 432.0 L319.68 429.6 L320.45 425.5 L321.22 420.0 L321.99 427.2 L322.76 432.3 L323.53 438.7 L324.30 443.4 L325.07 446.8 L325.84 442.5 L326.61 438.7 L327.38 434.6 L328.15 435.3 L328.92 433.3 L329.69 429.6 L330.46 427.1 L331.23 424.8 L332.00 428.4 L332.77 430.3 L333.54 429.7 L334.31 426.3 L335.08 420.4 L335.85 417.4 L336.62 416.9 L337.39 417.4 L338.16 416.9 L338.93 415.4 L339.70 413.8 L340.47 414.6 L341.24 413.5 L342.01 412.5 L342.78 411.3 L343.55 411.5 L344.32 410.0 L345.09 410.0 L345.86 411.8 L346.63 411.6 L347.40 413.3 L348.17 416.0 L348.94 411.1 L349.71 411.1 L350.48 410.0 L351.25 413.1 L352.02 415.8 L352.79 420.0 L353.56 420.0 L354.33 418.5 L355.10 417.6 L355.87 414.1 L356.64 412.5 L357.41 410.5 L358.18 412.8 L358.95 414.3 L359.72 413.8 L360.49 411.2 L361.26 410.0 L362.03 405.4 L362.80 405.0 L363.57 404.5 L364.34 407.8 L365.11 412.5 L365.88 407.6 L366.65 405.7 L367.42 403.9 L368.19 401.6 L368.96 397.9 L369.73 400.1 L370.50 396.8 L371.27 396.6 L372.04 391.4 L372.81 388.3 L373.58 386.5 L374.35 384.5 L375.12 383.0 L375.89 383.1 L376.66 384.0 L377.43 388.0 L378.20 387.6 L378.97 388.2 L379.74 389.0 L380.51 388.9 L381.28 390.5 L382.05 387.1 L382.82 383.8 L383.59 380.7 L384.36 380.6 L385.13 378.1 L385.90 379.1 L386.67 383.0 L387.44 378.9 L388.21 378.0 L388.98 376.4 L389.75 372.6 L390.52 371.0 L391.29 369.6 L392.06 370.1 L392.83 370.4 L393.60 369.5 L394.37 368.5 L395.14 367.3 L395.91 366.6 L396.68 366.9 L397.45 366.1 L398.22 364.8 L398.99 365.4 L399.76 367.7 L400.53 369.4 L401.30 372.3 L402.07 372.3 L402.84 373.3 L403.61 375.0 L404.38 377.0 L405.15 377.8 L405.92 382.7 L406.69 383.1 L407.46 385.9 L408.23 387.2 L409.00 390.0 L409.77 389.5 L410.54 384.9 L411.31 383.8 L412.08 382.7 L412.85 379.7 L413.62 380.5 L414.39 379.7 L415.16 378.0 L415.93 376.6 L416.70 372.3 L417.47 374.9 L418.24 377.4 L419.01 377.9 L419.78 379.7 L420.55 377.5 L421.32 377.0 L422.09 378.6 L422.86 374.8 L423.63 377.1 L424.40 380.3 L425.17 381.5 L425.94 382.2 L426.71 384.6 L427.48 388.7 L428.25 392.5 L429.02 394.4 L429.79 397.3 L430.56 399.4 L431.33 398.9 L432.10 399.4 L432.87 399.0 L433.64 399.0 L434.41 395.8 L435.18 394.4 L435.95 391.7 L436.72 388.8 L437.49 387.0 L438.26 389.2 L439.03 388.9 L439.80 388.1 L440.57 389.8 L441.34 389.5 L442.11 393.7 L442.88 399.2 L443.65 401.7 L444.42 404.5 L445.19 409.5 L445.96 410.6 L446.73 413.3 L447.50 414.0 L448.27 408.8 L449.04 401.4 L449.81 396.8 L450.58 397.2 L451.35 392.4 L452.12 388.4 L452.89 385.0 L453.66 385.8 L454.43 382.1 L455.20 379.5 L455.97 377.0 L456.74 375.1 L457.51 372.6 L458.28 371.8 L459.05 369.0 L459.82 370.0 L460.59 369.9 L461.36 370.8 L462.13 370.6 L462.90 369.7 L463.67 371.0 L464.44 369.1 L465.21 370.6 L465.98 370.1 L466.75 367.4 L467.52 365.9 L468.29 363.1 L469.06 360.4 L469.83 358.7 L470.60 357.7 L471.37 356.5 L472.14 355.2 L472.91 355.5 L473.68 351.5 L474.45 349.0 L475.22 352.4 L475.99 348.3 L476.76 347.5 L477.53 347.8 L478.30 347.9 L479.07 351.2 L479.84 352.6 L480.61 355.1 L481.38 356.9 L482.15 357.7 L482.92 352.2 L483.69 349.3 L484.46 347.5 L485.23 345.4 L486.00 344.9 L486.77 349.0 L487.54 352.8 L488.31 350.9 L489.08 347.7 L489.85 343.7 L490.62 340.5 L491.39 339.5 L492.16 336.6 L492.93 336.2 L493.70 335.6 L494.47 336.0 L495.24 337.7 L496.01 340.4 L496.78 340.5 L497.55 337.0 L498.32 336.4 L499.09 332.1 L499.86 328.3 L500.63 327.8 L501.40 328.9 L502.17 327.7 L502.94 325.9 L503.71 333.0 L504.48 331.0 L505.25 328.6 L506.02 324.1 L506.79 324.4 L507.56 322.0 L508.33 319.8 L509.10 320.5 L509.87 319.5 L510.64 318.5 L511.41 319.3 L512.18 317.5 L512.95 318.1 L513.72 320.6 L514.49 319.7 L515.26 317.4 L516.03 314.6 L516.80 314.8 L517.57 314.2 L518.34 317.3 L519.11 317.8 L519.88 317.0 L520.65 318.0 L521.42 314.0 L522.19 310.9 L522.96 309.7 L523.73 307.4 L524.50 306.4 L525.27 305.1 L526.04 306.0 L526.81 306.3 L527.58 306.2 L528.35 307.6 L529.12 309.4 L529.89 312.3 L530.66 313.2 L531.43 314.2 L532.20 314.9 L532.97 317.5 L533.74 317.2 L534.51 322.2 L535.28 326.2 L536.05 327.9 L536.82 332.0 L537.59 331.4 L538.36 330.7 L539.13 327.2 L539.90 324.7 L540.67 322.0 L541.44 321.9 L542.21 324.4 L542.98 327.0 L543.75 324.0 L544.52 319.9 L545.29 315.3 L546.06 317.0 L546.83 314.2 L547.60 312.4 L548.37 312.5 L549.14 310.0 L549.91 308.0 L550.68 307.1 L551.45 303.3 L552.22 301.4 L552.99 301.3 L553.76 302.3 L554.53 302.4 L555.30 303.3 L556.07 302.8 L556.84 303.8 L557.61 308.3 L558.38 308.6 L559.15 310.0 L559.92 308.2 L560.69 305.6 L561.46 303.3 L562.23 302.1 L563.00 298.9 L563.77 294.1 L564.54 294.6 L565.31 294.4 L566.08 293.4 L566.85 291.5 L567.62 292.6 L568.39 291.1 L569.16 290.7 L569.93 287.9 L570.70 290.9 L571.47 288.4 L572.24 288.1 L573.01 284.4 L573.78 289.0 L574.55 286.3 L575.32 286.5 L576.09 287.4 L576.86 284.6 L577.63 281.8 L578.40 279.6 L579.17 277.1 L579.94 275.2 L580.71 274.4 L581.48 274.1 L582.25 273.6 L583.02 273.0 L583.79 276.9 L584.56 279.9 L585.33 282.0 L586.10 284.0 L586.87 287.5 L587.64 288.6 L588.41 292.8 L589.18 291.7 L589.95 287.4 L590.72 286.3 L591.49 283.0 L592.26 293.4 L593.03 306.4 L593.80 317.0 L594.57 314.5 L595.34 309.2 L596.11 303.7 L596.88 297.7 L597.65 294.8 L598.42 290.9 L599.19 285.4 L599.96 284.4 L600.73 282.2 L601.50 280.7 L602.27 277.7 L603.04 275.6 L603.81 273.5 L604.58 274.7 L605.35 276.8 L606.12 279.0 L606.89 278.0 L607.66 279.9 L608.43 283.6 L609.20 283.0 L609.97 287.0 L610.74 290.6 L611.51 291.6 L612.28 292.8 L613.05 290.9 L613.82 287.7 L614.59 284.1 L615.36 280.5 L616.13 279.8 L616.90 279.7 L617.67 273.0 L618.44 271.9 L619.21 271.0 L619.98 268.0 L620.75 267.5 L621.52 265.9 L622.29 267.1 L623.06 268.7 L623.83 267.6 L624.60 270.2 L625.37 270.7 L626.14 266.7 L626.91 265.5 L627.68 264.3 L628.45 264.5 L629.22 263.4 L629.99 261.6 L630.76 261.3 L631.53 262.0 L632.30 258.5 L633.07 260.2 L633.84 261.9 L634.61 262.1 L635.38 260.6 L636.15 262.0 L636.92 265.8 L637.69 261.4 L638.46 261.2 L639.23 261.6 L640.00 261.0 L640.77 266.1 L641.54 268.2 L642.31 269.5 L643.08 262.0 L643.85 258.3 L644.62 251.0 L645.39 248.4 L646.16 247.9 L646.93 247.5 L647.70 247.2 L648.47 249.1 L649.24 252.1 L650.01 253.0 L650.78 256.0 L651.55 253.5 L652.32 252.7 L653.09 250.8 L653.86 251.0 L654.63 249.3 L655.40 248.7 L656.17 248.1 L656.94 242.4 L657.71 242.0 L658.48 238.6 L659.25 241.7 L660.02 240.1 L660.79 240.0 L661.56 241.2 L662.33 240.3 L663.10 242.5 L663.87 243.6 L664.64 244.8 L665.41 248.1 L666.18 254.4 L666.95 258.3 L667.72 254.9 L668.49 251.5 L669.26 246.0 L670.03 249.1 L670.80 254.2 L671.57 257.0 L672.34 258.3 L673.11 253.8 L673.88 251.1 L674.65 247.3 L675.42 252.7 L676.19 259.8 L676.96 263.0 L677.73 260.8 L678.50 256.0 L679.27 253.4 L680.04 251.3 L680.81 250.8 L681.58 249.1 L682.35 247.5 L683.12 244.8 L683.89 248.1 L684.66 247.9 L685.43 248.5 L686.20 247.7 L686.97 245.5 L687.74 242.4 L688.51 242.5 L689.28 243.6 L690.05 246.0 L690.82 246.0 L691.59 243.2 L692.36 243.2 L693.13 242.4 L693.90 241.0 L694.67 240.7 L695.44 239.5 L696.21 238.5 L696.98 239.0 L697.75 237.8 L698.52 243.2 L699.29 247.4 L700.06 251.8 L700.83 255.6 L701.60 256.0 L702.37 259.2 L703.14 259.0 L703.91 263.7 L704.68 268.9 L705.45 267.5 L706.22 270.5 L706.99 276.7 L707.76 282.6 L708.53 280.0 L709.30 280.4 L710.07 277.0 L710.84 274.0 L711.61 273.6 L712.38 270.8 L713.15 272.0 L713.92 269.2 L714.69 264.9 L715.46 268.1 L716.23 270.4 L717.00 271.1 L717.77 276.0 L718.54 280.5 L719.31 284.5 L720.08 282.3 L720.85 281.7 L721.62 307.7 L722.39 339.6 L723.16 319.4 L723.93 304.0 L724.70 299.0 L725.47 294.8 L726.24 307.8 L727.01 301.6 L727.78 297.4 L728.55 294.8 L729.32 302.2 L730.09 302.0 L730.86 293.3 L731.63 287.0 L732.40 286.8 L733.17 284.7 L733.94 283.5 L734.71 280.0 L735.48 275.0 L736.25 274.7 L737.02 275.5 L737.79 276.0 L738.56 271.5 L739.33 270.5 L740.10 266.4 L740.87 259.9 L741.64 256.4 L742.41 255.8 L743.18 252.7 L743.95 251.8 L744.72 253.9 L745.49 256.2 L746.26 257.3 L747.03 259.0 L747.80 257.6 L748.57 256.4 L749.34 254.8 L750.11 253.6 L750.88 252.4 L751.65 250.8 L752.42 250.0 L753.19 247.7 L753.96 246.9 L754.73 246.1 L755.50 247.0 L756.27 245.6 L757.04 243.5 L757.81 244.3 L758.58 244.1 L759.35 246.6 L760.12 249.8 L760.89 250.0 L761.66 247.3 L762.43 244.6 L763.20 241.9 L763.97 239.6 L764.74 235.9 L765.51 235.4 L766.28 234.0 L767.05 233.1 L767.82 233.4 L768.59 233.3 L769.36 231.2 L770.13 232.2 L770.90 230.3 L771.67 229.2 L772.44 228.4 L773.21 227.5" stroke="#101216" stroke-width="0.9" fill="none" stroke-linejoin="round"/>
<path d="M8.60 397.8V399.2M9.37 393.2V399.4M10.14 388.2V394.7M10.91 381.2V389.0M11.68 378.9V384.0M12.45 381.0V383.3M13.22 380.8V388.1M13.99 383.5V386.5M14.76 383.6V386.1M15.53 383.6V386.8M16.30 383.5V387.0M17.07 383.4V385.5M17.84 380.0V384.8M18.61 380.3V383.0M19.38 381.5V383.8M20.15 381.8V384.5M20.92 379.9V383.7M21.69 376.8V381.1M22.46 376.2V381.0M23.23 378.1V379.3M24.00 376.8V381.7M24.77 377.7V381.6M25.54 379.7V387.8M26.31 383.6V387.6M27.08 383.0V385.3M27.85 378.9V386.4M28.62 378.7V382.3M29.39 377.8V379.3M30.16 374.8V379.9M30.93 373.9V378.9M31.70 373.5V375.1M32.47 371.3V374.4M33.24 370.4V372.5M34.01 370.8V372.7M34.78 371.4V372.9M35.55 371.8V374.7M36.32 372.4V375.0M37.09 373.8V374.3M37.86 372.9V375.6M38.63 373.6V379.1M39.40 376.9V380.3M40.17 377.8V385.8M40.94 383.3V391.5M41.71 389.0V395.7M42.48 387.5V394.2M43.25 385.2V388.0M44.02 377.7V387.9M44.79 379.1V383.5M45.56 380.1V387.5M46.33 383.9V388.8M47.10 388.3V394.5M47.87 391.0V397.0M48.64 389.1V396.6M49.41 386.7V389.4M50.18 381.7V387.4M50.95 383.1V390.6M51.72 385.8V391.8M52.49 389.7V391.8M53.26 386.5V391.5M54.03 382.1V389.9M54.80 381.3V384.9M55.57 377.9V384.7M56.34 375.9V380.0M57.11 371.4V376.6M57.88 368.9V374.1M58.65 366.3V371.0M59.42 367.0V369.5M60.19 361.5V369.2M60.96 361.1V364.2M61.73 361.1V362.2M62.50 361.2V364.4M63.27 361.0V364.2M64.04 357.5V364.1M64.81 353.7V358.4M65.58 353.2V355.0M66.35 354.7V356.3M67.12 353.7V355.9M67.89 354.1V360.3M68.66 356.6V361.2M69.43 359.5V361.4M70.20 359.7V362.2M70.97 358.8V361.9M71.74 358.7V360.0M72.51 356.8V360.2M73.28 355.8V361.2M74.05 355.4V356.9M74.82 352.6V356.7M75.59 352.2V358.6M76.36 357.1V361.5M77.13 360.3V364.7M77.90 362.7V363.8M78.67 361.7V367.5M79.44 362.8V371.6M80.21 368.8V371.3M80.98 367.7V376.2M81.75 368.9V375.3M82.52 362.9V370.4M83.29 362.5V364.4M84.06 359.0V363.4M84.83 353.0V360.8M85.60 350.6V357.2M86.37 349.1V356.1M87.14 352.7V359.8M87.91 355.4V362.7M88.68 361.2V365.5M89.45 363.2V367.8M90.22 360.4V367.1M90.99 357.0V362.6M91.76 350.9V357.6M92.53 347.0V352.5M93.30 343.8V348.5M94.07 344.2V347.6M94.84 342.7V346.8M95.61 343.7V347.3M96.38 344.7V347.1M97.15 343.7V346.6M97.92 344.3V347.1M98.69 345.2V352.1M99.46 350.5V358.6M100.23 357.0V361.1M101.00 355.2V359.8M101.77 354.0V356.0M102.54 351.9V355.6M103.31 351.5V360.8M104.08 358.8V368.8M104.85 365.2V375.4M105.62 373.7V382.9M106.39 380.6V391.8M107.16 389.9V399.3M107.93 396.2V405.1M108.70 394.9V403.5M109.47 389.0V395.7M110.24 382.6V391.2M111.01 376.7V386.2M111.78 374.8V379.6M112.55 366.4V375.4M113.32 366.5V370.2M114.09 367.6V370.0M114.86 368.3V371.5M115.63 369.7V374.4M116.40 371.0V374.5M117.17 373.8V379.2M117.94 376.0V383.3M118.71 379.0V382.0M119.48 378.7V381.8M120.25 381.0V386.6M121.02 383.1V393.7M121.79 391.2V396.4M122.56 394.7V401.6M123.33 398.8V405.5M124.10 403.6V411.3M124.87 408.3V413.5M125.64 403.9V414.6M126.41 394.1V405.8M127.18 383.8V395.8M127.95 384.1V391.2M128.72 389.1V393.5M129.49 392.1V397.7M130.26 393.9V397.3M131.03 393.9V403.4M131.80 399.5V409.4M132.57 403.4V408.7M133.34 405.1V406.1M134.11 401.4V408.1M134.88 394.7V404.0M135.65 383.3V397.2M136.42 381.6V385.8M137.19 378.9V382.1M137.96 376.6V379.6M138.73 373.9V378.7M139.50 371.5V377.3M140.27 366.8V372.2M141.04 368.0V369.6M141.81 365.8V370.5M142.58 365.5V367.1M143.35 363.4V366.7M144.12 362.8V365.7M144.89 365.2V369.7M145.66 369.1V373.9M146.43 370.1V374.5M147.20 371.9V375.9M147.97 375.0V377.1M148.74 376.6V378.1M149.51 376.5V382.4M150.28 382.1V385.7M151.05 382.6V386.9M151.82 382.9V385.8M152.59 379.7V386.9M153.36 378.5V382.4M154.13 375.0V382.7M154.90 374.8V386.6M155.67 384.3V405.2M156.44 401.2V404.1M157.21 398.8V402.5M157.98 393.6V399.3M158.75 394.0V400.6M159.52 397.3V408.8M160.29 406.3V417.7M161.06 404.4V418.5M161.83 398.0V408.3M162.60 397.9V408.4M163.37 404.7V416.1M164.14 414.8V425.7M164.91 423.7V431.1M165.68 428.5V437.8M166.45 426.6V435.9M167.22 424.3V431.0M167.99 420.3V426.8M168.76 418.7V429.0M169.53 425.6V435.4M170.30 434.9V441.4M171.07 435.1V443.5M171.84 427.6V438.2M172.61 422.9V428.3M173.38 418.1V425.5M174.15 412.9V419.1M174.92 410.7V413.6M175.69 409.9V412.4M176.46 410.8V412.8M177.23 407.6V412.6M178.00 405.0V408.9M178.77 406.5V415.3M179.54 413.2V419.1M180.31 415.5V418.7M181.08 415.4V452.7M181.85 450.0V456.5M182.62 453.9V462.2M183.39 458.5V465.1M184.16 463.1V469.2M184.93 446.8V467.8M185.70 440.1V448.7M186.47 441.0V443.5M187.24 436.5V442.7M188.01 436.7V440.3M188.78 436.0V439.2M189.55 434.4V440.8M190.32 439.0V448.2M191.09 445.3V450.1M191.86 447.7V450.8M192.63 445.4V448.5M193.40 442.0V448.9M194.17 441.1V443.9M194.94 437.1V443.3M195.71 437.7V446.8M196.48 445.2V449.2M197.25 447.3V453.4M198.02 452.1V454.5M198.79 453.4V458.4M199.56 444.2V457.9M200.33 438.8V446.0M201.10 433.5V442.5M201.87 428.0V434.3M202.64 427.8V430.0M203.41 427.2V431.1M204.18 430.2V431.3M204.95 429.1V434.1M205.72 428.6V434.0M206.49 423.1V431.8M207.26 419.0V424.3M208.03 410.9V419.9M208.80 411.4V412.8M209.57 410.1V414.9M210.34 409.3V411.8M211.11 408.9V411.5M211.88 408.6V412.7M212.65 405.1V411.1M213.42 402.5V405.4M214.19 399.8V403.8M214.96 397.1V402.0M215.73 392.3V398.1M216.50 393.8V397.8M217.27 396.9V399.5M218.04 397.4V403.0M218.81 400.9V402.4M219.58 399.9V408.5M220.35 405.5V411.2M221.12 409.4V413.3M221.89 410.6V416.0M222.66 413.1V417.5M223.43 417.2V422.0M224.20 419.6V425.8M224.97 425.6V429.4M225.74 428.8V430.8M226.51 429.9V438.2M227.28 431.9V437.9M228.05 425.1V432.8M228.82 422.8V427.2M229.59 418.0V424.8M230.36 415.4V419.4M231.13 414.2V420.9M231.90 420.1V429.4M232.67 428.2V439.7M233.44 437.4V443.5M234.21 441.3V447.4M234.98 444.7V451.3M235.75 448.7V457.1M236.52 454.7V462.4M237.29 460.4V467.4M238.06 465.2V470.7M238.83 467.3V469.9M239.60 466.2V472.4M240.37 471.1V476.0M241.14 474.1V475.3M241.91 462.2V475.6M242.68 447.7V464.1M243.45 447.4V455.3M244.22 450.3V461.8M244.99 458.9V470.1M245.76 468.3V473.1M246.53 472.0V480.0M247.30 477.3V487.0M248.07 480.2V486.4M248.84 472.6V481.2M249.61 461.9V473.6M250.38 459.7V463.4M251.15 458.0V464.0M251.92 456.1V459.7M252.69 451.2V458.0M253.46 446.6V454.0M254.23 441.5V449.9M255.00 436.1V444.3M255.77 437.3V443.5M256.54 442.5V450.5M257.31 448.4V454.7M258.08 451.4V458.8M258.85 456.6V461.9M259.62 451.4V460.2M260.39 450.9V453.6M261.16 442.0V451.6M261.93 433.8V445.0M262.70 428.8V435.8M263.47 429.9V432.7M264.24 430.0V432.5M265.01 426.0V431.2M265.78 424.5V429.0M266.55 424.0V428.7M267.32 425.5V428.8M268.09 424.9V429.3M268.86 427.9V431.0M269.63 429.2V432.9M270.40 429.9V433.5M271.17 425.8V430.8M271.94 417.5V428.8M272.71 418.4V422.1M273.48 421.0V424.9M274.25 422.5V427.3M275.02 426.8V429.6M275.79 428.0V433.2M276.56 430.0V432.4M277.33 425.3V432.9M278.10 418.4V427.3M278.87 414.8V419.9M279.64 414.7V424.9M280.41 423.1V436.4M281.18 432.9V437.1M281.95 434.7V446.0M282.72 443.3V445.3M283.49 444.3V448.3M284.26 446.5V451.9M285.03 448.1V452.8M285.80 446.5V449.8M286.57 445.6V449.8M287.34 444.4V448.9M288.11 444.0V446.1M288.88 442.9V446.3M289.65 443.4V447.2M290.42 444.4V448.5M291.19 443.7V447.2M291.96 439.8V445.1M292.73 436.4V440.9M293.50 429.2V438.5M294.27 428.1V432.9M295.04 429.4V432.0M295.81 430.3V434.0M296.58 431.6V437.4M297.35 432.7V438.2M298.12 430.8V435.7M298.89 428.0V433.2M299.66 423.6V430.1M300.43 421.0V425.1M301.20 419.1V423.3M301.97 418.0V421.1M302.74 416.4V419.5M303.51 410.6V419.0M304.28 410.1V415.2M305.05 407.2V411.8M305.82 406.0V407.8M306.59 406.1V410.3M307.36 405.6V410.4M308.13 409.2V414.4M308.90 412.4V416.7M309.67 408.1V415.2M310.44 409.6V411.3M311.21 409.4V414.0M311.98 411.8V414.7M312.75 411.1V413.6M313.52 411.5V417.3M314.29 415.5V422.5M315.06 421.9V427.1M315.83 425.5V429.9M316.60 427.6V432.5M317.37 430.8V433.1M318.14 431.2V433.7M318.91 431.2V433.1M319.68 428.8V432.3M320.45 422.6V430.9M321.22 418.7V428.5M321.99 417.8V427.7M322.76 425.6V434.0M323.53 429.7V440.8M324.30 437.1V443.5M325.07 443.3V447.9M325.84 441.1V446.8M326.61 438.1V443.0M327.38 433.6V439.9M328.15 434.0V435.5M328.92 431.3V437.6M329.69 428.8V435.1M330.46 425.8V431.1M331.23 423.5V427.3M332.00 423.4V430.3M332.77 428.4V433.0M333.54 426.9V432.9M334.31 423.6V431.3M335.08 419.8V426.6M335.85 417.2V421.4M336.62 416.1V418.9M337.39 416.0V420.4M338.16 413.9V418.3M338.93 413.9V418.2M339.70 412.7V416.1M340.47 413.0V414.7M341.24 412.5V415.4M342.01 411.3V413.7M342.78 410.4V413.5M343.55 409.9V411.6M344.32 408.7V413.3M345.09 408.5V410.6M345.86 409.5V412.5M346.63 410.0V414.1M347.40 410.8V413.6M348.17 412.1V417.1M348.94 411.0V416.2M349.71 410.3V412.6M350.48 409.8V411.1M351.25 408.7V413.3M352.02 412.1V417.1M352.79 415.0V420.0M353.56 419.2V420.6M354.33 417.3V420.2M355.10 415.8V419.1M355.87 413.3V418.5M356.64 410.7V414.4M357.41 409.1V412.9M358.18 409.0V415.2M358.95 412.2V415.6M359.72 413.7V416.1M360.49 409.2V414.7M361.26 409.9V412.5M362.03 403.5V411.9M362.80 403.4V406.2M363.57 404.2V407.2M364.34 404.3V409.7M365.11 405.2V414.1M365.88 405.7V413.1M366.65 405.5V408.4M367.42 403.2V406.6M368.19 400.1V404.6M368.96 396.8V402.9M369.73 397.0V402.7M370.50 395.5V401.1M371.27 395.9V397.2M372.04 389.3V397.6M372.81 388.2V391.8M373.58 385.7V388.8M374.35 382.6V386.7M375.12 381.7V385.5M375.89 382.8V384.0M376.66 382.2V385.3M377.43 383.5V389.2M378.20 387.0V388.1M378.97 385.9V390.0M379.74 387.3V389.4M380.51 387.1V390.0M381.28 388.7V392.0M382.05 385.6V390.5M382.82 383.0V389.3M383.59 379.7V383.9M384.36 379.7V382.4M385.13 376.7V382.5M385.90 376.6V380.1M386.67 377.5V383.7M387.44 377.0V384.3M388.21 375.1V379.3M388.98 375.5V379.9M389.75 372.3V376.7M390.52 370.4V373.4M391.29 369.5V372.3M392.06 368.2V371.1M392.83 367.7V371.0M393.60 367.4V370.8M394.37 366.9V370.4M395.14 366.2V369.2M395.91 366.2V367.6M396.68 366.1V367.1M397.45 365.0V367.2M398.22 364.4V366.5M398.99 364.7V366.2M399.76 363.8V368.4M400.53 367.3V371.5M401.30 367.6V374.0M402.07 370.3V372.9M402.84 371.5V375.2M403.61 372.9V375.8M404.38 373.8V378.2M405.15 376.3V379.6M405.92 377.1V384.3M406.69 380.9V384.6M407.46 381.6V386.1M408.23 385.7V387.5M409.00 385.9V392.2M409.77 389.3V391.1M410.54 384.8V389.7M411.31 383.2V386.4M412.08 381.6V385.8M412.85 379.7V384.4M413.62 378.0V381.5M414.39 378.4V380.9M415.16 377.9V380.2M415.93 376.3V381.5M416.70 371.8V379.0M417.47 371.2V376.1M418.24 373.3V377.6M419.01 375.6V379.1M419.78 377.4V381.1M420.55 376.1V381.0M421.32 374.7V378.0M422.09 375.7V380.1M422.86 374.7V380.5M423.63 374.4V377.4M424.40 375.7V380.3M425.17 379.5V382.1M425.94 380.6V382.3M426.71 381.0V385.1M427.48 383.3V389.3M428.25 387.7V393.3M429.02 391.4V394.7M429.79 393.0V398.3M430.56 397.3V399.9M431.33 397.7V400.3M432.10 398.7V399.8M432.87 398.9V400.6M433.64 398.2V399.2M434.41 395.8V400.7M435.18 394.1V397.2M435.95 390.4V395.2M436.72 388.7V392.6M437.49 385.8V390.4M438.26 385.4V391.0M439.03 388.3V389.9M439.80 386.5V389.4M440.57 386.3V390.3M441.34 388.0V390.5M442.11 388.6V395.5M442.88 392.5V400.1M443.65 399.1V402.2M444.42 399.4V404.7M445.19 402.3V409.6M445.96 409.3V411.4M446.73 410.1V413.4M447.50 413.2V415.8M448.27 408.4V416.7M449.04 400.9V408.9M449.81 395.2V402.8M450.58 396.8V398.8M451.35 391.7V397.3M452.12 386.5V393.1M452.89 384.7V389.7M453.66 383.2V386.7M454.43 381.3V386.4M455.20 378.2V383.7M455.97 374.4V380.2M456.74 374.6V377.9M457.51 370.6V375.2M458.28 369.8V374.1M459.05 367.4V372.1M459.82 367.7V371.5M460.59 369.7V370.8M461.36 368.8V372.3M462.13 370.5V370.8M462.90 368.9V373.8M463.67 369.0V371.7M464.44 368.7V372.7M465.21 368.7V372.8M465.98 368.5V371.5M466.75 365.8V370.2M467.52 365.3V367.8M468.29 362.9V366.8M469.06 359.6V365.3M469.83 356.5V360.7M470.60 357.6V359.1M471.37 355.3V359.0M472.14 354.3V357.0M472.91 353.9V356.7M473.68 350.7V356.2M474.45 348.7V351.7M475.22 348.0V353.3M475.99 347.3V352.5M476.76 346.8V348.3M477.53 346.3V349.3M478.30 345.3V349.9M479.07 347.7V351.7M479.84 351.1V353.8M480.61 350.0V356.6M481.38 354.0V357.2M482.15 356.7V359.1M482.92 351.3V358.9M483.69 346.8V352.4M484.46 347.4V351.9M485.23 344.2V347.7M486.00 344.0V345.9M486.77 343.6V349.9M487.54 348.0V354.6M488.31 350.1V353.1M489.08 347.5V353.5M489.85 343.0V348.8M490.62 339.6V345.2M491.39 339.0V341.8M492.16 335.0V340.3M492.93 335.7V337.3M493.70 335.6V336.9M494.47 335.0V337.1M495.24 333.9V339.8M496.01 337.2V341.8M496.78 339.2V342.1M497.55 336.1V341.6M498.32 336.0V337.2M499.09 330.4V338.5M499.86 326.8V333.4M500.63 326.7V328.8M501.40 327.1V330.4M502.17 326.7V329.3M502.94 325.9V329.8M503.71 325.2V335.5M504.48 329.5V336.0M505.25 328.4V331.9M506.02 323.7V329.6M506.79 323.4V324.7M507.56 320.1V324.6M508.33 319.3V323.4M509.10 319.3V321.0M509.87 318.3V321.1M510.64 318.3V320.3M511.41 317.8V321.8M512.18 317.4V321.1M512.95 317.3V318.7M513.72 317.5V321.7M514.49 318.0V323.1M515.26 317.1V321.8M516.03 312.9V319.1M516.80 314.4V316.5M517.57 313.4V316.0M518.34 313.5V318.8M519.11 315.4V319.7M519.88 316.3V319.6M520.65 314.8V318.0M521.42 311.8V318.3M522.19 309.5V315.5M522.96 307.5V312.0M523.73 306.9V309.9M524.50 306.2V309.0M525.27 304.4V306.7M526.04 303.7V306.2M526.81 305.5V306.8M527.58 303.8V308.5M528.35 305.4V308.2M529.12 306.5V310.3M529.89 308.2V313.7M530.66 311.7V315.0M531.43 311.6V315.3M532.20 313.7V315.4M532.97 313.4V317.6M533.74 316.4V317.7M534.51 316.8V323.7M535.28 321.4V327.1M536.05 324.5V328.3M536.82 327.0V333.2M537.59 329.7V332.1M538.36 329.2V332.5M539.13 325.1V332.7M539.90 323.3V330.0M540.67 321.1V325.2M541.44 321.3V322.1M542.21 321.0V325.2M542.98 323.5V328.3M543.75 322.2V327.6M544.52 317.7V324.3M545.29 314.5V320.7M546.06 315.1V317.2M546.83 312.0V318.4M547.60 312.3V315.6M548.37 311.1V313.2M549.14 309.1V313.1M549.91 307.6V310.7M550.68 306.2V310.0M551.45 301.1V307.7M552.22 301.1V304.0M552.99 299.6V302.6M553.76 300.9V303.5M554.53 301.6V303.7M555.30 301.8V303.6M556.07 301.9V304.8M556.84 302.7V304.6M557.61 302.1V308.8M558.38 307.9V311.3M559.15 307.0V311.8M559.92 308.1V312.3M560.69 305.0V308.6M561.46 301.8V307.6M562.23 302.0V303.6M563.00 297.8V302.8M563.77 292.6V300.3M564.54 293.6V295.9M565.31 292.8V295.7M566.08 292.0V296.6M566.85 291.0V294.4M567.62 291.1V294.4M568.39 290.6V294.0M569.16 289.7V292.1M569.93 285.5V291.6M570.70 285.8V292.6M571.47 286.3V291.7M572.24 286.4V290.0M573.01 284.0V289.3M573.78 283.6V289.9M574.55 284.3V289.3M575.32 285.7V287.1M576.09 286.0V287.7M576.86 283.7V288.8M577.63 279.4V285.8M578.40 278.3V282.1M579.17 275.7V281.7M579.94 273.2V277.9M580.71 272.7V277.5M581.48 272.5V274.8M582.25 273.0V275.5M583.02 271.7V273.8M583.79 272.9V278.6M584.56 276.7V282.0M585.33 279.0V283.2M586.10 281.8V284.4M586.87 282.5V287.8M587.64 284.8V288.9M588.41 288.4V293.7M589.18 290.4V294.3M589.95 286.8V292.4M590.72 285.6V287.8M591.49 281.7V288.0M592.26 281.9V294.4M593.03 293.0V307.5M593.80 305.5V317.8M594.57 312.6V317.6M595.34 308.1V314.5M596.11 303.1V311.4M596.88 297.7V304.5M597.65 294.4V299.4M598.42 290.9V295.3M599.19 284.1V291.5M599.96 283.8V287.2M600.73 282.1V285.0M601.50 279.7V283.5M602.27 277.3V282.5M603.04 272.8V278.3M603.81 271.0V276.5M604.58 271.4V275.3M605.35 273.6V277.4M606.12 276.5V279.2M606.89 277.4V281.0M607.66 276.1V280.5M608.43 279.4V283.9M609.20 282.9V286.0M609.97 281.5V288.0M610.74 286.5V290.6M611.51 288.5V293.1M612.28 291.5V294.6M613.05 290.8V294.3M613.82 287.6V291.4M614.59 282.8V289.0M615.36 278.7V284.3M616.13 277.5V282.6M616.90 278.8V281.1M617.67 272.8V280.5M618.44 271.7V274.0M619.21 269.9V274.0M619.98 266.2V272.6M620.75 266.9V268.7M621.52 265.3V268.5M622.29 265.1V268.6M623.06 266.6V269.2M623.83 266.7V269.2M624.60 265.3V271.1M625.37 268.0V272.6M626.14 266.3V271.9M626.91 263.4V267.4M627.68 263.3V265.9M628.45 263.3V265.1M629.22 262.4V266.3M629.99 259.5V264.4M630.76 260.3V263.2M631.53 260.7V262.0M632.30 256.6V262.1M633.07 256.8V260.2M633.84 257.7V261.9M634.61 260.3V264.3M635.38 260.6V264.3M636.15 260.5V262.6M636.92 260.5V267.3M637.69 260.7V267.1M638.46 260.4V262.1M639.23 260.7V262.3M640.00 260.4V262.0M640.77 258.5V268.3M641.54 265.5V268.5M642.31 266.9V271.3M643.08 260.4V269.6M643.85 257.3V263.0M644.62 248.9V260.2M645.39 247.1V253.0M646.16 247.3V250.6M646.93 247.0V249.1M647.70 245.5V247.6M648.47 246.9V249.8M649.24 248.1V252.9M650.01 251.5V254.4M650.78 252.1V256.9M651.55 252.5V256.7M652.32 251.1V255.9M653.09 250.3V252.7M653.86 250.5V252.0M654.63 247.9V251.2M655.40 246.9V249.3M656.17 246.5V249.9M656.94 241.1V250.9M657.71 241.3V243.2M658.48 237.3V243.7M659.25 238.3V242.9M660.02 239.8V243.2M660.79 237.9V241.0M661.56 239.2V242.2M662.33 238.7V242.7M663.10 239.0V243.6M663.87 242.0V243.8M664.64 242.8V246.7M665.41 244.0V250.1M666.18 246.7V254.9M666.95 253.3V259.2M667.72 254.4V258.6M668.49 249.5V255.1M669.26 246.0V251.6M670.03 245.6V250.6M670.80 247.7V255.1M671.57 252.1V257.4M672.34 256.6V260.6M673.11 252.9V258.5M673.88 250.7V254.0M674.65 247.3V251.7M675.42 245.6V253.9M676.19 252.4V263.1M676.96 259.8V264.0M677.73 259.8V264.6M678.50 255.4V262.0M679.27 250.7V257.0M680.04 251.2V254.6M680.81 250.6V251.9M681.58 248.1V252.0M682.35 246.9V250.8M683.12 244.1V247.7M683.89 243.1V248.6M684.66 245.9V248.4M685.43 246.5V249.7M686.20 246.2V248.9M686.97 245.4V249.8M687.74 241.7V247.2M688.51 240.6V243.8M689.28 241.0V244.1M690.05 242.7V247.1M690.82 244.7V247.6M691.59 242.5V246.3M692.36 242.8V244.5M693.13 241.8V243.4M693.90 240.5V242.8M694.67 240.0V242.4M695.44 238.9V241.4M696.21 236.9V240.3M696.98 237.9V240.3M697.75 236.5V240.9M698.52 236.0V243.2M699.29 241.7V248.0M700.06 247.2V254.0M700.83 251.4V255.8M701.60 255.1V256.2M702.37 254.2V260.4M703.14 256.9V260.4M703.91 258.6V265.5M704.68 263.4V269.4M705.45 266.7V269.9M706.22 265.5V270.9M706.99 269.3V277.6M707.76 276.5V282.6M708.53 279.3V283.9M709.30 278.8V281.7M710.07 276.1V280.9M710.84 272.7V277.0M711.61 273.3V274.6M712.38 270.5V274.0M713.15 270.6V272.4M713.92 268.3V272.2M714.69 264.4V269.8M715.46 263.9V268.2M716.23 266.8V271.9M717.00 270.2V272.3M717.77 269.9V276.6M718.54 275.0V281.5M719.31 280.1V285.6M720.08 281.3V284.6M720.85 280.2V283.2M721.62 280.8V308.2M722.39 306.3V340.6M723.16 317.5V340.9M723.93 303.6V320.1M724.70 297.3V304.6M725.47 293.6V300.3M726.24 294.1V308.9M727.01 300.6V308.9M727.78 296.4V301.8M728.55 292.8V298.2M729.32 294.4V302.5M730.09 300.8V302.3M730.86 293.3V304.6M731.63 285.0V295.1M732.40 284.7V288.4M733.17 284.1V288.7M733.94 281.5V286.0M734.71 279.2V285.5M735.48 272.9V280.4M736.25 273.7V276.6M737.02 273.9V277.3M737.79 274.5V277.5M738.56 270.6V276.4M739.33 270.5V275.2M740.10 265.3V272.5M740.87 258.0V268.8M741.64 255.0V260.2M742.41 254.9V257.2M743.18 252.0V257.5M743.95 250.8V253.8M744.72 250.2V256.0M745.49 253.9V256.6M746.26 255.5V257.3M747.03 255.9V261.7M747.80 257.5V261.1M748.57 255.2V258.0M749.34 251.9V257.7M750.11 252.8V255.8M750.88 249.7V256.1M751.65 247.9V253.4M752.42 248.2V252.9M753.19 246.3V251.2M753.96 246.2V248.2M754.73 245.9V249.5M755.50 245.6V247.9M756.27 244.5V247.9M757.04 242.4V248.1M757.81 242.6V245.0M758.58 243.8V245.2M759.35 243.5V247.6M760.12 242.9V251.0M760.89 249.7V252.6M761.66 245.6V251.6M762.43 243.1V248.9M763.20 240.5V246.7M763.97 237.8V244.0M764.74 235.4V240.5M765.51 235.1V237.6M766.28 232.4V235.9M767.05 231.7V237.2M767.82 231.1V233.5M768.59 232.5V234.9M769.36 230.3V234.5M770.13 229.3V233.3M770.90 230.2V233.7M771.67 228.4V231.3M772.44 228.0V229.5M773.21 227.3V229.0" stroke="#101216" stroke-width="0.8" fill="none"/>
<path d="M375 378.3L397 364.8M429 401.7L446.3 414M514.8 311L525.8 304M165.5 441.4L170.7 447.8M180.5 455.8L184 467.9M234.6 438L234.6 443.5" stroke="#e5394a" stroke-width="1.5" fill="none"/>
<rect x="176" y="403.5" width="2" height="3" fill="#f5a623"/><rect x="112" y="364.5" width="2" height="3" fill="#f5a623"/><rect x="342" y="407.5" width="2" height="3" fill="#f5a623"/><rect x="351" y="419.5" width="2" height="3" fill="#f5a623"/><rect x="329" y="412.5" width="2" height="3" fill="#f5a623"/><rect x="621.8" y="262.5" width="2" height="3" fill="#f5a623"/><rect x="658.5" y="239.0" width="2" height="3" fill="#f5a623"/><rect x="525" y="303.0" width="2" height="3" fill="#f5a623"/>
<path d="M792.6 271.5H838.5" stroke="#2f55a8" stroke-width="1" fill="none"/>
<text x="845" y="275.5" font-size="11" fill="#3a6cd6" textLength="79" lengthAdjust="spacingAndGlyphs">38,20% (5695,57)</text>
<path d="M279 487.5H325.5M321.5 484.5L325.5 487.5L321.5 490.5M392.3 444.5H443.2M439.2 441.5L443.2 444.5L439.2 447.5M392.3 442.0V447.0M701.3 351.5H781M777 348.5L781 351.5L777 354.5M701.3 349.0V354.0" stroke="#6fbf73" stroke-width="1" fill="none"/>
<text x="280" y="506.3" font-size="7" fill="#4caf50" textLength="44" lengthAdjust="spacingAndGlyphs">Бары: 60, 90д</text>
<text x="390" y="467.5" font-size="9" fill="#4caf50" textLength="54" lengthAdjust="spacingAndGlyphs">Бары: 65, 92д</text>
<text x="709" y="374.7" font-size="9" fill="#4caf50" textLength="64" lengthAdjust="spacingAndGlyphs">Бары: 103, 151д</text>
<text x="95.5" y="306" font-size="16" fill="#3a6cd6" text-anchor="middle" dominant-baseline="central" font-weight="normal">3</text>
<circle cx="92" cy="328.7" r="9.3" fill="none" stroke="#e0343f" stroke-width="1"/><text x="92" y="328.7" font-size="12" fill="#e0343f" text-anchor="middle" dominant-baseline="central" font-weight="normal">v</text>
<text x="126" y="436.8" font-size="15" fill="#4caf50" text-anchor="middle" dominant-baseline="central" font-weight="normal">(W)</text>
<text x="231" y="395" font-size="15" fill="#4caf50" text-anchor="middle" dominant-baseline="central" font-weight="normal">(X)</text>
<text x="247" y="499.7" font-size="15" fill="#4caf50" text-anchor="middle" dominant-baseline="central" font-weight="normal">(Y)</text>
<text x="248.6" y="512" font-size="14" fill="#3a6cd6" text-anchor="middle" dominant-baseline="central" font-weight="bold">4</text>
<circle cx="278.4" cy="400.3" r="8.8" fill="none" stroke="#e0343f" stroke-width="1"/><text x="278.4" y="400.3" font-size="13" fill="#e0343f" text-anchor="middle" dominant-baseline="central" font-weight="normal">i</text>
<circle cx="324.8" cy="458.3" r="8.5" fill="none" stroke="#e0343f" stroke-width="1"/><text x="324.8" y="458.3" font-size="13" fill="#e0343f" text-anchor="middle" dominant-baseline="central" font-weight="normal">ii</text>
<text x="398.3" y="350.5" font-size="14" fill="#4caf50" text-anchor="middle" dominant-baseline="central" font-weight="normal">(i)</text>
<text x="445.4" y="429.8" font-size="14" fill="#4caf50" text-anchor="middle" dominant-baseline="central" font-weight="normal">(ii)</text>
<text x="478.6" y="330.7" font-size="14" fill="#3a6cd6" text-anchor="middle" dominant-baseline="central" font-weight="bold">i</text>
<text x="488" y="370" font-size="14" fill="#3a6cd6" text-anchor="middle" dominant-baseline="central" font-weight="bold">ii</text>
<text x="527" y="279.4" font-size="14" fill="#3a6cd6" text-anchor="middle" dominant-baseline="central" font-weight="bold">iii</text>
<text x="537.5" y="346.6" font-size="14" fill="#3a6cd6" text-anchor="middle" dominant-baseline="central" font-weight="bold">iv</text>
<circle cx="582.4" cy="257.3" r="5.4" fill="none" stroke="#e0343f" stroke-width="1"/><text x="582.4" y="257.3" font-size="8" fill="#e0343f" text-anchor="middle" dominant-baseline="central" font-weight="normal">1</text>
<circle cx="594.6" cy="327" r="5.4" fill="none" stroke="#e0343f" stroke-width="1"/><text x="594.6" y="327" font-size="8" fill="#e0343f" text-anchor="middle" dominant-baseline="central" font-weight="normal">2</text>
<circle cx="631.3" cy="240.9" r="5.4" fill="none" stroke="#e0343f" stroke-width="1"/><text x="631.3" y="240.9" font-size="8" fill="#e0343f" text-anchor="middle" dominant-baseline="central" font-weight="normal">3</text>
<circle cx="643" cy="285.4" r="5.4" fill="none" stroke="#e0343f" stroke-width="1"/><text x="643" y="285.4" font-size="8" fill="#e0343f" text-anchor="middle" dominant-baseline="central" font-weight="normal">4</text>
<text x="698.4" y="202.8" font-size="14" fill="#4caf50" text-anchor="middle" dominant-baseline="central" font-weight="normal">(iii)</text>
<text x="697.4" y="212.5" font-size="11" fill="#3a6cd6" text-anchor="middle" dominant-baseline="central" font-weight="bold">v</text>
<circle cx="697.8" cy="219" r="5" fill="none" stroke="#e0343f" stroke-width="1"/><text x="697.8" y="219" font-size="8" fill="#e0343f" text-anchor="middle" dominant-baseline="central" font-weight="normal">5</text>
<text x="802" y="291" font-size="14" fill="#4caf50" text-anchor="middle" dominant-baseline="central" font-weight="normal">(iv)</text>
<circle cx="866.7" cy="140.8" r="9.3" fill="none" stroke="#e0343f" stroke-width="1"/><text x="866.7" y="140.8" font-size="12" fill="#e0343f" text-anchor="middle" dominant-baseline="central" font-weight="normal">iii</text>
<text x="866" y="162" font-size="13" fill="#4caf50" text-anchor="middle" dominant-baseline="central" font-weight="normal">(v)</text>
<circle cx="1065.3" cy="246.7" r="9.3" fill="none" stroke="#e0343f" stroke-width="1"/><text x="1065.3" y="246.7" font-size="12" fill="#e0343f" text-anchor="middle" dominant-baseline="central" font-weight="normal">iv</text>
<path d="M1110 35V47M1115.2 35V47M1120.4 35V47" stroke="#3a6cd6" stroke-width="2.2" fill="none"/>
<circle cx="1115" cy="73" r="9.2" fill="none" stroke="#e0343f" stroke-width="1"/><text x="1115" y="73" font-size="14" fill="#e0343f" text-anchor="middle" dominant-baseline="central" font-weight="normal">5</text>
<text x="1114.5" y="95.5" font-size="14" fill="#4caf50" text-anchor="middle" dominant-baseline="central" font-weight="normal">(5)</text>
<text x="1094" y="106" font-size="15" fill="#3a6cd6" text-anchor="middle" dominant-baseline="central" font-weight="normal">5</text>
<circle cx="1100.5" cy="125.5" r="9.2" fill="none" stroke="#e0343f" stroke-width="1"/><text x="1100.5" y="125.5" font-size="12" fill="#e0343f" text-anchor="middle" dominant-baseline="central" font-weight="normal">v</text>
<text x="914.5" y="200" font-size="13" font-weight="bold" fill="#3a6cd6" textLength="119" lengthAdjust="spacingAndGlyphs">Восходящий канал</text>
<text x="638.5" y="63.7" font-size="25" fill="#2b2e38" textLength="146" lengthAdjust="spacingAndGlyphs">S&amp;P500 index</text>
<g><circle cx="773.6" cy="521.6" r="8.3" fill="#fff" stroke="#9c27b0" stroke-width="1.2"/><path d="M775.8 516.2L770.2 522.4H773.6L771.6 527L777.2 520.6H773.8Z" fill="#9c27b0"/><circle cx="779.6" cy="515.6" r="2.6" fill="#fff"/><circle cx="779.6" cy="515.6" r="1.9" fill="#e5394a"/></g>
<g><circle cx="774.5" cy="543" r="9.8" fill="#ea4553"/><circle cx="773.9" cy="543" r="7.9" fill="#fff"/><clipPath id="fc"><circle cx="773.3" cy="543" r="7.2"/></clipPath><g clip-path="url(#fc)"><rect x="764" y="534" width="20" height="18" fill="#fff"/><path d="M775 538.2H784M775 541.9H784M764 546.9H784M764 550.2H784" stroke="#ea4553" stroke-width="1.7"/><rect x="764" y="535.3" width="11.3" height="8.6" fill="#5a9ae6"/></g></g>
<text x="1144" y="62.1" font-size="10" fill="#3b3e48" textLength="34.6" lengthAdjust="spacingAndGlyphs">9 200,00</text>
<text x="1144" y="102.2" font-size="10" fill="#3b3e48" textLength="34.6" lengthAdjust="spacingAndGlyphs">8 400,00</text>
<text x="1144" y="129.2" font-size="10" fill="#3b3e48" textLength="34.6" lengthAdjust="spacingAndGlyphs">7 900,00</text>
<text x="1144" y="158.0" font-size="10" fill="#3b3e48" textLength="34.6" lengthAdjust="spacingAndGlyphs">7 400,00</text>
<text x="1144" y="188.8" font-size="10" fill="#3b3e48" textLength="34.6" lengthAdjust="spacingAndGlyphs">6 900,00</text>
<text x="1144" y="215.1" font-size="10" fill="#3b3e48" textLength="34.6" lengthAdjust="spacingAndGlyphs">6 500,00</text>
<text x="1144" y="243.1" font-size="10" fill="#3b3e48" textLength="34.6" lengthAdjust="spacingAndGlyphs">6 100,00</text>
<text x="1144" y="273.0" font-size="10" fill="#3b3e48" textLength="34.6" lengthAdjust="spacingAndGlyphs">5 700,00</text>
<text x="1144" y="305.1" font-size="10" fill="#3b3e48" textLength="34.6" lengthAdjust="spacingAndGlyphs">5 300,00</text>
<text x="1144" y="339.6" font-size="10" fill="#3b3e48" textLength="34.6" lengthAdjust="spacingAndGlyphs">4 900,00</text>
<text x="1144" y="367.5" font-size="10" fill="#3b3e48" textLength="34.6" lengthAdjust="spacingAndGlyphs">4 600,00</text>
<text x="1144" y="397.2" font-size="10" fill="#3b3e48" textLength="34.6" lengthAdjust="spacingAndGlyphs">4 300,00</text>
<text x="1144" y="429.0" font-size="10" fill="#3b3e48" textLength="34.6" lengthAdjust="spacingAndGlyphs">4 000,00</text>
<text x="1144" y="457.5" font-size="10" fill="#3b3e48" textLength="34.6" lengthAdjust="spacingAndGlyphs">3 750,00</text>
<text x="1144" y="486.6" font-size="10" fill="#3b3e48" textLength="34.6" lengthAdjust="spacingAndGlyphs">3 510,00</text>
<text x="1144" y="512.5" font-size="10" fill="#3b3e48" textLength="34.6" lengthAdjust="spacingAndGlyphs">3 310,00</text>
<text x="1144" y="537.1" font-size="10" fill="#3b3e48" textLength="34.6" lengthAdjust="spacingAndGlyphs">3 130,00</text>
<rect x="1140.5" y="27.5" width="46.5" height="21" rx="3" fill="#fff" stroke="#eceef2"/>
<text x="1148" y="41.3" font-size="10" fill="#3b3e48" textLength="18.5" lengthAdjust="spacingAndGlyphs">USD</text>
<rect x="1136.5" y="223.5" width="46.8" height="14" rx="1.5" fill="#e8283e"/>
<text x="1143.5" y="234" font-size="9.6" font-weight="bold" fill="#fff" textLength="35" lengthAdjust="spacingAndGlyphs">6 243,76</text>
<text x="1144" y="574.1" font-size="10" fill="#3b3e48" textLength="23" lengthAdjust="spacingAndGlyphs">75,00</text>
<text x="1144" y="602.6" font-size="10" fill="#3b3e48" textLength="23" lengthAdjust="spacingAndGlyphs">50,00</text>
<text x="1144" y="631.1" font-size="10" fill="#3b3e48" textLength="23" lengthAdjust="spacingAndGlyphs">25,00</text>
<text x="192" y="656" font-size="10" text-anchor="middle" fill="#3b3e48" font-weight="normal">Июл</text>
<text x="289" y="656" font-size="10" text-anchor="middle" fill="#3b3e48" font-weight="bold">2023</text>
<text x="383" y="656" font-size="10" text-anchor="middle" fill="#3b3e48" font-weight="normal">Июл</text>
<text x="480" y="656" font-size="10" text-anchor="middle" fill="#3b3e48" font-weight="bold">2024</text>
<text x="574" y="656" font-size="10" text-anchor="middle" fill="#3b3e48" font-weight="normal">Июл</text>
<text x="672" y="656" font-size="10" text-anchor="middle" fill="#3b3e48" font-weight="bold">2025</text>
<text x="767" y="656" font-size="10" text-anchor="middle" fill="#3b3e48" font-weight="normal">Июл</text>
<text x="864" y="656" font-size="10" text-anchor="middle" fill="#3b3e48" font-weight="bold">2026</text>
<text x="958" y="656" font-size="10" text-anchor="middle" fill="#3b3e48" font-weight="normal">Июл</text>
<text x="1056.5" y="656" font-size="10" text-anchor="middle" fill="#3b3e48" font-weight="bold">2027</text>
<rect x="57.5" y="640.5" width="70.5" height="19.5" fill="#6236c4"/>
<text x="64.2" y="656" font-size="9.5" font-weight="bold" fill="#fff" textLength="56" lengthAdjust="spacingAndGlyphs">пн 27 Дек '21</text>
<g fill="#1c1c1c"><path d="M8.7 675.8H15.5V684.2H12.2V679H8.7Z"/><circle cx="17.6" cy="677.4" r="1.6"/><path d="M20.6 675.8H25.2L21.4 684.2H16.8Z"/></g>
<text x="29.7" y="684" font-size="11.5" fill="#3a3a3a" textLength="60" lengthAdjust="spacingAndGlyphs">TradingView</text>
</svg></body></html>
